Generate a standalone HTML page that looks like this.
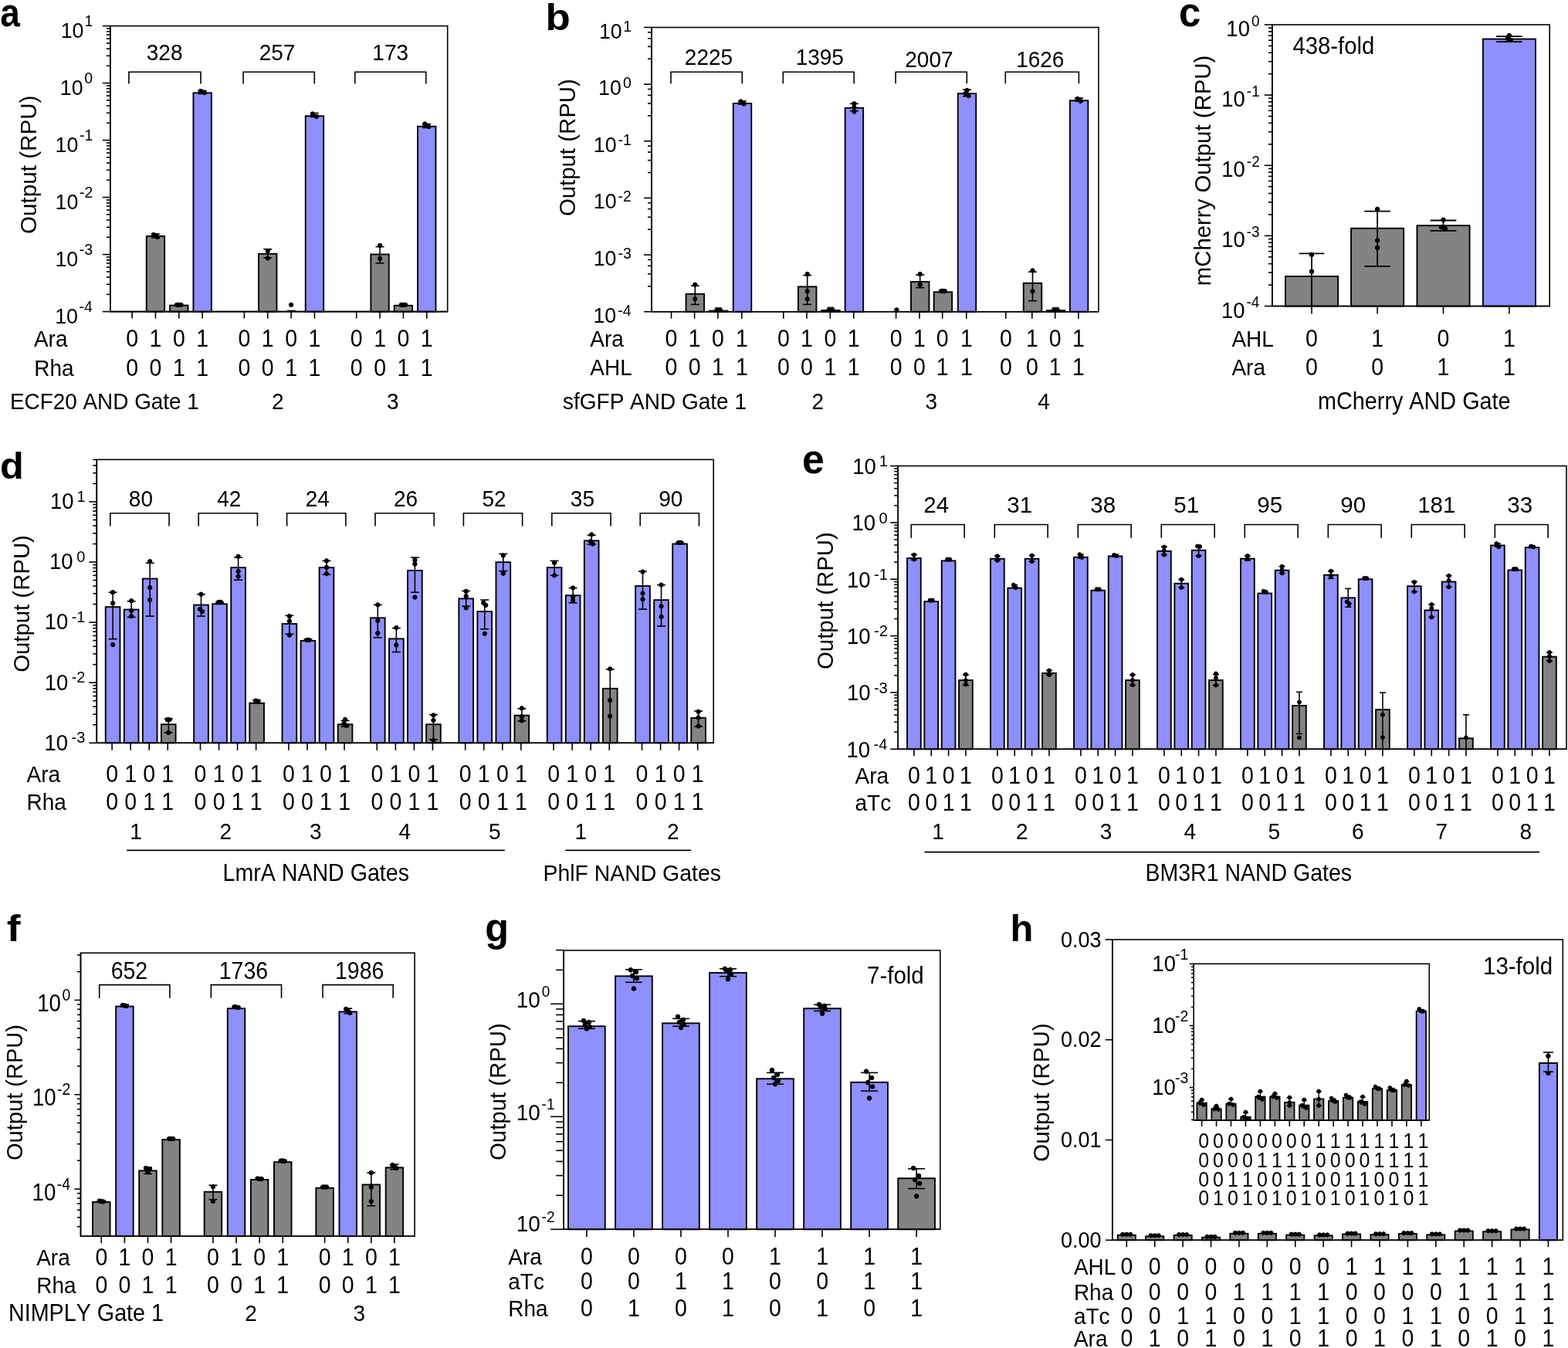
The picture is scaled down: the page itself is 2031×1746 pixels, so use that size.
<!DOCTYPE html>
<html><head><meta charset="utf-8"><title>Figure</title>
<style>
html,body{margin:0;padding:0;background:#fff;}
svg{display:block;}
svg text{font-family:"Liberation Sans",Arial,Helvetica,sans-serif;fill:#000;font-kerning:none;}
</style></head><body>
<svg width="2031" height="1746" viewBox="0 0 2031 1746" stroke="#000" stroke-linecap="butt">
<rect x="0" y="0" width="2031" height="1746" fill="#fff" stroke="none"/>
<g stroke="#000">
<rect x="142.8" y="33.6" width="436.9" height="370" fill="none" stroke-width="1.6"/>
<line x1="132.8" y1="33.6" x2="142.8" y2="33.6" stroke-width="1.6"/>
<line x1="132.8" y1="107.6" x2="142.8" y2="107.6" stroke-width="1.6"/>
<line x1="132.8" y1="181.6" x2="142.8" y2="181.6" stroke-width="1.6"/>
<line x1="132.8" y1="255.6" x2="142.8" y2="255.6" stroke-width="1.6"/>
<line x1="132.8" y1="329.6" x2="142.8" y2="329.6" stroke-width="1.6"/>
<line x1="132.8" y1="403.6" x2="142.8" y2="403.6" stroke-width="1.6"/>
<line x1="137.8" y1="85.32" x2="142.8" y2="85.32" stroke-width="1.6"/>
<line x1="137.8" y1="72.29" x2="142.8" y2="72.29" stroke-width="1.6"/>
<line x1="137.8" y1="63.05" x2="142.8" y2="63.05" stroke-width="1.6"/>
<line x1="137.8" y1="55.88" x2="142.8" y2="55.88" stroke-width="1.6"/>
<line x1="137.8" y1="50.02" x2="142.8" y2="50.02" stroke-width="1.6"/>
<line x1="137.8" y1="45.06" x2="142.8" y2="45.06" stroke-width="1.6"/>
<line x1="137.8" y1="40.77" x2="142.8" y2="40.77" stroke-width="1.6"/>
<line x1="137.8" y1="36.99" x2="142.8" y2="36.99" stroke-width="1.6"/>
<line x1="137.8" y1="159.32" x2="142.8" y2="159.32" stroke-width="1.6"/>
<line x1="137.8" y1="146.29" x2="142.8" y2="146.29" stroke-width="1.6"/>
<line x1="137.8" y1="137.05" x2="142.8" y2="137.05" stroke-width="1.6"/>
<line x1="137.8" y1="129.88" x2="142.8" y2="129.88" stroke-width="1.6"/>
<line x1="137.8" y1="124.02" x2="142.8" y2="124.02" stroke-width="1.6"/>
<line x1="137.8" y1="119.06" x2="142.8" y2="119.06" stroke-width="1.6"/>
<line x1="137.8" y1="114.77" x2="142.8" y2="114.77" stroke-width="1.6"/>
<line x1="137.8" y1="110.99" x2="142.8" y2="110.99" stroke-width="1.6"/>
<line x1="137.8" y1="233.32" x2="142.8" y2="233.32" stroke-width="1.6"/>
<line x1="137.8" y1="220.29" x2="142.8" y2="220.29" stroke-width="1.6"/>
<line x1="137.8" y1="211.05" x2="142.8" y2="211.05" stroke-width="1.6"/>
<line x1="137.8" y1="203.88" x2="142.8" y2="203.88" stroke-width="1.6"/>
<line x1="137.8" y1="198.02" x2="142.8" y2="198.02" stroke-width="1.6"/>
<line x1="137.8" y1="193.06" x2="142.8" y2="193.06" stroke-width="1.6"/>
<line x1="137.8" y1="188.77" x2="142.8" y2="188.77" stroke-width="1.6"/>
<line x1="137.8" y1="184.99" x2="142.8" y2="184.99" stroke-width="1.6"/>
<line x1="137.8" y1="307.32" x2="142.8" y2="307.32" stroke-width="1.6"/>
<line x1="137.8" y1="294.29" x2="142.8" y2="294.29" stroke-width="1.6"/>
<line x1="137.8" y1="285.05" x2="142.8" y2="285.05" stroke-width="1.6"/>
<line x1="137.8" y1="277.88" x2="142.8" y2="277.88" stroke-width="1.6"/>
<line x1="137.8" y1="272.02" x2="142.8" y2="272.02" stroke-width="1.6"/>
<line x1="137.8" y1="267.06" x2="142.8" y2="267.06" stroke-width="1.6"/>
<line x1="137.8" y1="262.77" x2="142.8" y2="262.77" stroke-width="1.6"/>
<line x1="137.8" y1="258.99" x2="142.8" y2="258.99" stroke-width="1.6"/>
<line x1="137.8" y1="381.32" x2="142.8" y2="381.32" stroke-width="1.6"/>
<line x1="137.8" y1="368.29" x2="142.8" y2="368.29" stroke-width="1.6"/>
<line x1="137.8" y1="359.05" x2="142.8" y2="359.05" stroke-width="1.6"/>
<line x1="137.8" y1="351.88" x2="142.8" y2="351.88" stroke-width="1.6"/>
<line x1="137.8" y1="346.02" x2="142.8" y2="346.02" stroke-width="1.6"/>
<line x1="137.8" y1="341.06" x2="142.8" y2="341.06" stroke-width="1.6"/>
<line x1="137.8" y1="336.77" x2="142.8" y2="336.77" stroke-width="1.6"/>
<line x1="137.8" y1="332.99" x2="142.8" y2="332.99" stroke-width="1.6"/>
<text stroke="none" transform="translate(78.64,49.2) scale(1,1.05)" font-size="26.8">10</text>
<text stroke="none" transform="translate(109.45,34.4) scale(1,1.05)" font-size="19.5">1</text>
<text stroke="none" transform="translate(77.76,123.2) scale(1,1.05)" font-size="26.8">10</text>
<text stroke="none" transform="translate(109.26,108.4) scale(1,1.05)" font-size="19.5">0</text>
<text stroke="none" transform="translate(71.52,197.2) scale(1,1.05)" font-size="26.8">10</text>
<text stroke="none" transform="translate(102.92,182.4) scale(1,1.05)" font-size="19.5">-1</text>
<text stroke="none" transform="translate(71.52,271.2) scale(1,1.05)" font-size="26.8">10</text>
<text stroke="none" transform="translate(102.92,256.4) scale(1,1.05)" font-size="19.5">-2</text>
<text stroke="none" transform="translate(71.42,345.2) scale(1,1.05)" font-size="26.8">10</text>
<text stroke="none" transform="translate(102.82,330.4) scale(1,1.05)" font-size="19.5">-3</text>
<text stroke="none" transform="translate(71.13,419.2) scale(1,1.05)" font-size="26.8">10</text>
<text stroke="none" transform="translate(102.53,404.4) scale(1,1.05)" font-size="19.5">-4</text>
<text stroke="none" transform="translate(47.2,213.3) rotate(-90) scale(1.04,1.04)" font-size="28.5" text-anchor="middle">Output (RPU)</text>
<text stroke="none" transform="translate(0.32,34) scale(0.96,1.09)" font-size="48" font-weight="bold">a</text>
<rect x="189.75" y="305.95" width="23.4" height="97.65" fill="#838383" stroke-width="1.9"/>
<line x1="201.45" y1="303" x2="201.45" y2="308" stroke-width="1.6"/>
<line x1="195.95" y1="303" x2="206.95" y2="303" stroke-width="1.6"/>
<line x1="195.95" y1="308" x2="206.95" y2="308" stroke-width="1.6"/>
<circle cx="198.95" cy="304" r="2.7"/>
<circle cx="201.45" cy="305" r="2.7"/>
<circle cx="203.95" cy="307" r="2.7"/>
<rect x="220.1" y="395.55" width="23.4" height="8.05" fill="#838383" stroke-width="1.9"/>
<line x1="231.8" y1="393.8" x2="231.8" y2="395.8" stroke-width="1.6"/>
<line x1="226.3" y1="393.8" x2="237.3" y2="393.8" stroke-width="1.6"/>
<line x1="226.3" y1="395.8" x2="237.3" y2="395.8" stroke-width="1.6"/>
<circle cx="229.3" cy="394.8" r="2.7"/>
<circle cx="231.8" cy="394.8" r="2.7"/>
<circle cx="234.3" cy="394.8" r="2.7"/>
<rect x="250.45" y="120.35" width="23.4" height="283.25" fill="#8f8ffd" stroke-width="1.9"/>
<line x1="262.15" y1="117.5" x2="262.15" y2="121.5" stroke-width="1.6"/>
<line x1="256.65" y1="117.5" x2="267.65" y2="117.5" stroke-width="1.6"/>
<line x1="256.65" y1="121.5" x2="267.65" y2="121.5" stroke-width="1.6"/>
<circle cx="259.65" cy="118" r="2.7"/>
<circle cx="262.15" cy="119" r="2.7"/>
<circle cx="264.65" cy="120" r="2.7"/>
<rect x="335.05" y="328.75" width="23.4" height="74.85" fill="#838383" stroke-width="1.9"/>
<line x1="346.75" y1="322.7" x2="346.75" y2="334" stroke-width="1.6"/>
<line x1="341.25" y1="322.7" x2="352.25" y2="322.7" stroke-width="1.6"/>
<line x1="341.25" y1="334" x2="352.25" y2="334" stroke-width="1.6"/>
<circle cx="346.75" cy="325" r="2.7"/>
<circle cx="346.75" cy="334.5" r="2.7"/>
<circle cx="377.1" cy="394.8" r="2.7"/>
<rect x="395.75" y="150.25" width="23.4" height="253.35" fill="#8f8ffd" stroke-width="1.9"/>
<line x1="407.45" y1="146.5" x2="407.45" y2="151.5" stroke-width="1.6"/>
<line x1="401.95" y1="146.5" x2="412.95" y2="146.5" stroke-width="1.6"/>
<line x1="401.95" y1="151.5" x2="412.95" y2="151.5" stroke-width="1.6"/>
<circle cx="404.95" cy="147.5" r="2.7"/>
<circle cx="409.95" cy="151" r="2.7"/>
<rect x="480.35" y="329.45" width="23.4" height="74.15" fill="#838383" stroke-width="1.9"/>
<line x1="492.05" y1="319.6" x2="492.05" y2="340.8" stroke-width="1.6"/>
<line x1="486.55" y1="319.6" x2="497.55" y2="319.6" stroke-width="1.6"/>
<line x1="486.55" y1="340.8" x2="497.55" y2="340.8" stroke-width="1.6"/>
<circle cx="492.05" cy="318" r="2.7"/>
<circle cx="492.05" cy="335" r="2.7"/>
<rect x="510.7" y="395.75" width="23.4" height="7.85" fill="#838383" stroke-width="1.9"/>
<line x1="522.4" y1="393.8" x2="522.4" y2="395.8" stroke-width="1.6"/>
<line x1="516.9" y1="393.8" x2="527.9" y2="393.8" stroke-width="1.6"/>
<line x1="516.9" y1="395.8" x2="527.9" y2="395.8" stroke-width="1.6"/>
<circle cx="519.9" cy="394.8" r="2.7"/>
<circle cx="522.4" cy="394.8" r="2.7"/>
<circle cx="524.9" cy="394.8" r="2.7"/>
<rect x="541.05" y="163.75" width="23.4" height="239.85" fill="#8f8ffd" stroke-width="1.9"/>
<line x1="552.75" y1="160.5" x2="552.75" y2="165.5" stroke-width="1.6"/>
<line x1="547.25" y1="160.5" x2="558.25" y2="160.5" stroke-width="1.6"/>
<line x1="547.25" y1="165.5" x2="558.25" y2="165.5" stroke-width="1.6"/>
<circle cx="550.25" cy="160.5" r="2.7"/>
<circle cx="555.25" cy="164" r="2.7"/>
<line x1="371.6" y1="402.4" x2="382.6" y2="402.4" stroke-width="1.4"/>
<line x1="142.8" y1="33.6" x2="142.8" y2="403.6" stroke-width="1.6"/>
<line x1="142.8" y1="403.6" x2="579.7" y2="403.6" stroke-width="1.6"/>
<line x1="171.1" y1="403.6" x2="171.1" y2="412.6" stroke-width="1.6"/>
<line x1="201.45" y1="403.6" x2="201.45" y2="412.6" stroke-width="1.6"/>
<line x1="231.8" y1="403.6" x2="231.8" y2="412.6" stroke-width="1.6"/>
<line x1="262.15" y1="403.6" x2="262.15" y2="412.6" stroke-width="1.6"/>
<line x1="316.4" y1="403.6" x2="316.4" y2="412.6" stroke-width="1.6"/>
<line x1="346.75" y1="403.6" x2="346.75" y2="412.6" stroke-width="1.6"/>
<line x1="377.1" y1="403.6" x2="377.1" y2="412.6" stroke-width="1.6"/>
<line x1="407.45" y1="403.6" x2="407.45" y2="412.6" stroke-width="1.6"/>
<line x1="461.7" y1="403.6" x2="461.7" y2="412.6" stroke-width="1.6"/>
<line x1="492.05" y1="403.6" x2="492.05" y2="412.6" stroke-width="1.6"/>
<line x1="522.4" y1="403.6" x2="522.4" y2="412.6" stroke-width="1.6"/>
<line x1="552.75" y1="403.6" x2="552.75" y2="412.6" stroke-width="1.6"/>
<polyline points="166.9,108.4 166.9,93.3 260,93.3 260,108.4" fill="none" stroke-width="1.6"/>
<text stroke="none" transform="translate(213.1,78.3) scale(1,1.07)" font-size="28" text-anchor="middle">328</text>
<polyline points="315.1,108.4 315.1,93.3 407.3,93.3 407.3,108.4" fill="none" stroke-width="1.6"/>
<text stroke="none" transform="translate(359,78.3) scale(1,1.07)" font-size="28" text-anchor="middle">257</text>
<polyline points="459.8,108.4 459.8,93.3 551.7,93.3 551.7,108.4" fill="none" stroke-width="1.6"/>
<text stroke="none" transform="translate(505.7,78.3) scale(1,1.07)" font-size="28" text-anchor="middle">173</text>
<text stroke="none" transform="translate(43.9,449.3) scale(1,1.07)" font-size="28">Ara</text>
<text stroke="none" transform="translate(44.3,486.6) scale(1,1.07)" font-size="28">Rha</text>
<text stroke="none" transform="translate(171.1,449.3) scale(1,1.07)" font-size="28.5" text-anchor="middle">0</text>
<text stroke="none" transform="translate(171.1,486.6) scale(1,1.07)" font-size="28.5" text-anchor="middle">0</text>
<text stroke="none" transform="translate(201.45,449.3) scale(1,1.07)" font-size="28.5" text-anchor="middle">1</text>
<text stroke="none" transform="translate(201.45,486.6) scale(1,1.07)" font-size="28.5" text-anchor="middle">0</text>
<text stroke="none" transform="translate(231.8,449.3) scale(1,1.07)" font-size="28.5" text-anchor="middle">0</text>
<text stroke="none" transform="translate(231.8,486.6) scale(1,1.07)" font-size="28.5" text-anchor="middle">1</text>
<text stroke="none" transform="translate(262.15,449.3) scale(1,1.07)" font-size="28.5" text-anchor="middle">1</text>
<text stroke="none" transform="translate(262.15,486.6) scale(1,1.07)" font-size="28.5" text-anchor="middle">1</text>
<text stroke="none" transform="translate(316.4,449.3) scale(1,1.07)" font-size="28.5" text-anchor="middle">0</text>
<text stroke="none" transform="translate(316.4,486.6) scale(1,1.07)" font-size="28.5" text-anchor="middle">0</text>
<text stroke="none" transform="translate(346.75,449.3) scale(1,1.07)" font-size="28.5" text-anchor="middle">1</text>
<text stroke="none" transform="translate(346.75,486.6) scale(1,1.07)" font-size="28.5" text-anchor="middle">0</text>
<text stroke="none" transform="translate(377.1,449.3) scale(1,1.07)" font-size="28.5" text-anchor="middle">0</text>
<text stroke="none" transform="translate(377.1,486.6) scale(1,1.07)" font-size="28.5" text-anchor="middle">1</text>
<text stroke="none" transform="translate(407.45,449.3) scale(1,1.07)" font-size="28.5" text-anchor="middle">1</text>
<text stroke="none" transform="translate(407.45,486.6) scale(1,1.07)" font-size="28.5" text-anchor="middle">1</text>
<text stroke="none" transform="translate(461.7,449.3) scale(1,1.07)" font-size="28.5" text-anchor="middle">0</text>
<text stroke="none" transform="translate(461.7,486.6) scale(1,1.07)" font-size="28.5" text-anchor="middle">0</text>
<text stroke="none" transform="translate(492.05,449.3) scale(1,1.07)" font-size="28.5" text-anchor="middle">1</text>
<text stroke="none" transform="translate(492.05,486.6) scale(1,1.07)" font-size="28.5" text-anchor="middle">0</text>
<text stroke="none" transform="translate(522.4,449.3) scale(1,1.07)" font-size="28.5" text-anchor="middle">0</text>
<text stroke="none" transform="translate(522.4,486.6) scale(1,1.07)" font-size="28.5" text-anchor="middle">1</text>
<text stroke="none" transform="translate(552.75,449.3) scale(1,1.07)" font-size="28.5" text-anchor="middle">1</text>
<text stroke="none" transform="translate(552.75,486.6) scale(1,1.07)" font-size="28.5" text-anchor="middle">1</text>
<text stroke="none" transform="translate(13,530) scale(1,1.07)" font-size="27.9">ECF20 AND Gate 1</text>
<text stroke="none" transform="translate(359.8,530) scale(1,1.07)" font-size="28" text-anchor="middle">2</text>
<text stroke="none" transform="translate(508.7,530) scale(1,1.07)" font-size="28" text-anchor="middle">3</text>
<rect x="844" y="35.5" width="579" height="368.2" fill="none" stroke-width="1.6"/>
<line x1="834" y1="35.5" x2="844" y2="35.5" stroke-width="1.6"/>
<line x1="834" y1="109.14" x2="844" y2="109.14" stroke-width="1.6"/>
<line x1="834" y1="182.78" x2="844" y2="182.78" stroke-width="1.6"/>
<line x1="834" y1="256.42" x2="844" y2="256.42" stroke-width="1.6"/>
<line x1="834" y1="330.06" x2="844" y2="330.06" stroke-width="1.6"/>
<line x1="834" y1="403.7" x2="844" y2="403.7" stroke-width="1.6"/>
<line x1="839" y1="76.21" x2="844" y2="76.21" stroke-width="1.6"/>
<line x1="839" y1="60.33" x2="844" y2="60.33" stroke-width="1.6"/>
<line x1="839" y1="49.77" x2="844" y2="49.77" stroke-width="1.6"/>
<line x1="839" y1="41.85" x2="844" y2="41.85" stroke-width="1.6"/>
<line x1="839" y1="149.85" x2="844" y2="149.85" stroke-width="1.6"/>
<line x1="839" y1="133.97" x2="844" y2="133.97" stroke-width="1.6"/>
<line x1="839" y1="123.41" x2="844" y2="123.41" stroke-width="1.6"/>
<line x1="839" y1="115.49" x2="844" y2="115.49" stroke-width="1.6"/>
<line x1="839" y1="223.49" x2="844" y2="223.49" stroke-width="1.6"/>
<line x1="839" y1="207.61" x2="844" y2="207.61" stroke-width="1.6"/>
<line x1="839" y1="197.05" x2="844" y2="197.05" stroke-width="1.6"/>
<line x1="839" y1="189.13" x2="844" y2="189.13" stroke-width="1.6"/>
<line x1="839" y1="297.13" x2="844" y2="297.13" stroke-width="1.6"/>
<line x1="839" y1="281.25" x2="844" y2="281.25" stroke-width="1.6"/>
<line x1="839" y1="270.69" x2="844" y2="270.69" stroke-width="1.6"/>
<line x1="839" y1="262.77" x2="844" y2="262.77" stroke-width="1.6"/>
<line x1="839" y1="370.77" x2="844" y2="370.77" stroke-width="1.6"/>
<line x1="839" y1="354.89" x2="844" y2="354.89" stroke-width="1.6"/>
<line x1="839" y1="344.33" x2="844" y2="344.33" stroke-width="1.6"/>
<line x1="839" y1="336.41" x2="844" y2="336.41" stroke-width="1.6"/>
<text stroke="none" transform="translate(775.94,49.5) scale(1,1.05)" font-size="26.8">10</text>
<text stroke="none" transform="translate(807.15,40.5) scale(1,1.05)" font-size="19.5">1</text>
<text stroke="none" transform="translate(775.06,123.14) scale(1,1.05)" font-size="26.8">10</text>
<text stroke="none" transform="translate(806.96,114.14) scale(1,1.05)" font-size="19.5">0</text>
<text stroke="none" transform="translate(768.82,196.78) scale(1,1.05)" font-size="26.8">10</text>
<text stroke="none" transform="translate(800.62,187.78) scale(1,1.05)" font-size="19.5">-1</text>
<text stroke="none" transform="translate(768.82,270.42) scale(1,1.05)" font-size="26.8">10</text>
<text stroke="none" transform="translate(800.62,261.42) scale(1,1.05)" font-size="19.5">-2</text>
<text stroke="none" transform="translate(768.72,344.06) scale(1,1.05)" font-size="26.8">10</text>
<text stroke="none" transform="translate(800.52,335.06) scale(1,1.05)" font-size="19.5">-3</text>
<text stroke="none" transform="translate(768.43,417.7) scale(1,1.05)" font-size="26.8">10</text>
<text stroke="none" transform="translate(800.23,408.7) scale(1,1.05)" font-size="19.5">-4</text>
<text stroke="none" transform="translate(745,191.2) rotate(-90) scale(1.03,1.04)" font-size="28.5" text-anchor="middle">Output (RPU)</text>
<text stroke="none" transform="translate(706.6,38.7) scale(1.1,1)" font-size="48" font-weight="bold">b</text>
<rect x="888.55" y="380.75" width="23.5" height="22.95" fill="#838383" stroke-width="1.9"/>
<line x1="900.3" y1="370.1" x2="900.3" y2="394.4" stroke-width="1.6"/>
<line x1="894.8" y1="370.1" x2="905.8" y2="370.1" stroke-width="1.6"/>
<line x1="894.8" y1="394.4" x2="905.8" y2="394.4" stroke-width="1.6"/>
<circle cx="900.3" cy="368.7" r="2.7"/>
<circle cx="900.3" cy="387.2" r="2.7"/>
<rect x="918.85" y="402.55" width="23.5" height="1.15" fill="#838383" stroke-width="1.9"/>
<circle cx="928.6" cy="401" r="2.7"/>
<circle cx="932.6" cy="401" r="2.7"/>
<rect x="949.75" y="133.95" width="23.5" height="269.75" fill="#8f8ffd" stroke-width="1.9"/>
<line x1="961.5" y1="131" x2="961.5" y2="135" stroke-width="1.6"/>
<line x1="956" y1="131" x2="967" y2="131" stroke-width="1.6"/>
<line x1="956" y1="135" x2="967" y2="135" stroke-width="1.6"/>
<circle cx="959.5" cy="131.5" r="2.7"/>
<circle cx="961.5" cy="133" r="2.7"/>
<circle cx="963.5" cy="134.5" r="2.7"/>
<rect x="1033.95" y="371.35" width="23.5" height="32.35" fill="#838383" stroke-width="1.9"/>
<line x1="1045.7" y1="356.6" x2="1045.7" y2="394.4" stroke-width="1.6"/>
<line x1="1040.2" y1="356.6" x2="1051.2" y2="356.6" stroke-width="1.6"/>
<line x1="1040.2" y1="394.4" x2="1051.2" y2="394.4" stroke-width="1.6"/>
<circle cx="1045.7" cy="355" r="2.7"/>
<circle cx="1045.7" cy="377.3" r="2.7"/>
<circle cx="1045.7" cy="387.2" r="2.7"/>
<rect x="1064.25" y="401.95" width="23.5" height="1.75" fill="#838383" stroke-width="1.9"/>
<circle cx="1074" cy="400.5" r="2.7"/>
<circle cx="1078" cy="400.5" r="2.7"/>
<rect x="1094.65" y="139.75" width="23.5" height="263.95" fill="#8f8ffd" stroke-width="1.9"/>
<line x1="1106.4" y1="134.3" x2="1106.4" y2="143.6" stroke-width="1.6"/>
<line x1="1100.9" y1="134.3" x2="1111.9" y2="134.3" stroke-width="1.6"/>
<line x1="1100.9" y1="143.6" x2="1111.9" y2="143.6" stroke-width="1.6"/>
<circle cx="1106.4" cy="134.3" r="2.7"/>
<circle cx="1106.4" cy="139" r="2.7"/>
<circle cx="1106.4" cy="144.5" r="2.7"/>
<circle cx="1161.3" cy="401.4" r="2.7"/>
<rect x="1179.95" y="364.95" width="23.5" height="38.75" fill="#838383" stroke-width="1.9"/>
<line x1="1191.7" y1="356.1" x2="1191.7" y2="372.6" stroke-width="1.6"/>
<line x1="1186.2" y1="356.1" x2="1197.2" y2="356.1" stroke-width="1.6"/>
<line x1="1186.2" y1="372.6" x2="1197.2" y2="372.6" stroke-width="1.6"/>
<circle cx="1191.7" cy="355" r="2.7"/>
<circle cx="1191.7" cy="368.6" r="2.7"/>
<rect x="1209.65" y="378.25" width="23.5" height="25.45" fill="#838383" stroke-width="1.9"/>
<line x1="1221.4" y1="376" x2="1221.4" y2="378.5" stroke-width="1.6"/>
<line x1="1215.9" y1="376" x2="1226.9" y2="376" stroke-width="1.6"/>
<line x1="1215.9" y1="378.5" x2="1226.9" y2="378.5" stroke-width="1.6"/>
<circle cx="1219.4" cy="377" r="2.7"/>
<circle cx="1221.4" cy="377" r="2.7"/>
<circle cx="1223.4" cy="377" r="2.7"/>
<rect x="1240.75" y="121.15" width="23.5" height="282.55" fill="#8f8ffd" stroke-width="1.9"/>
<line x1="1252.5" y1="116.1" x2="1252.5" y2="124.7" stroke-width="1.6"/>
<line x1="1247" y1="116.1" x2="1258" y2="116.1" stroke-width="1.6"/>
<line x1="1247" y1="124.7" x2="1258" y2="124.7" stroke-width="1.6"/>
<circle cx="1252.5" cy="117" r="2.7"/>
<circle cx="1250.5" cy="121" r="2.7"/>
<circle cx="1254.5" cy="124" r="2.7"/>
<rect x="1325.75" y="366.75" width="23.5" height="36.95" fill="#838383" stroke-width="1.9"/>
<line x1="1337.5" y1="352.2" x2="1337.5" y2="389.7" stroke-width="1.6"/>
<line x1="1332" y1="352.2" x2="1343" y2="352.2" stroke-width="1.6"/>
<line x1="1332" y1="389.7" x2="1343" y2="389.7" stroke-width="1.6"/>
<circle cx="1337.5" cy="350.4" r="2.7"/>
<circle cx="1337.5" cy="377.2" r="2.7"/>
<rect x="1355.65" y="402.15" width="23.5" height="1.55" fill="#838383" stroke-width="1.9"/>
<circle cx="1365.4" cy="400.8" r="2.7"/>
<circle cx="1369.4" cy="400.8" r="2.7"/>
<rect x="1385.85" y="130.25" width="23.5" height="273.45" fill="#8f8ffd" stroke-width="1.9"/>
<line x1="1397.6" y1="127" x2="1397.6" y2="131" stroke-width="1.6"/>
<line x1="1392.1" y1="127" x2="1403.1" y2="127" stroke-width="1.6"/>
<line x1="1392.1" y1="131" x2="1403.1" y2="131" stroke-width="1.6"/>
<circle cx="1395.6" cy="128" r="2.7"/>
<circle cx="1397.6" cy="129" r="2.7"/>
<circle cx="1399.6" cy="131" r="2.7"/>
<line x1="844" y1="35.5" x2="844" y2="403.7" stroke-width="1.6"/>
<line x1="844" y1="403.7" x2="1423" y2="403.7" stroke-width="1.6"/>
<line x1="869.5" y1="403.7" x2="869.5" y2="412.7" stroke-width="1.6"/>
<line x1="899.6" y1="403.7" x2="899.6" y2="412.7" stroke-width="1.6"/>
<line x1="929.9" y1="403.7" x2="929.9" y2="412.7" stroke-width="1.6"/>
<line x1="960.8" y1="403.7" x2="960.8" y2="412.7" stroke-width="1.6"/>
<line x1="1014.8" y1="403.7" x2="1014.8" y2="412.7" stroke-width="1.6"/>
<line x1="1045" y1="403.7" x2="1045" y2="412.7" stroke-width="1.6"/>
<line x1="1075.3" y1="403.7" x2="1075.3" y2="412.7" stroke-width="1.6"/>
<line x1="1105.7" y1="403.7" x2="1105.7" y2="412.7" stroke-width="1.6"/>
<line x1="1160.6" y1="403.7" x2="1160.6" y2="412.7" stroke-width="1.6"/>
<line x1="1191" y1="403.7" x2="1191" y2="412.7" stroke-width="1.6"/>
<line x1="1220.7" y1="403.7" x2="1220.7" y2="412.7" stroke-width="1.6"/>
<line x1="1251.8" y1="403.7" x2="1251.8" y2="412.7" stroke-width="1.6"/>
<line x1="1302.8" y1="403.7" x2="1302.8" y2="412.7" stroke-width="1.6"/>
<line x1="1336.8" y1="403.7" x2="1336.8" y2="412.7" stroke-width="1.6"/>
<line x1="1366.7" y1="403.7" x2="1366.7" y2="412.7" stroke-width="1.6"/>
<line x1="1396.9" y1="403.7" x2="1396.9" y2="412.7" stroke-width="1.6"/>
<polyline points="869,108.3 869,93.3 961.3,93.3 961.3,108.3" fill="none" stroke-width="1.6"/>
<text stroke="none" transform="translate(918,84.1) scale(1,1.07)" font-size="28" text-anchor="middle">2225</text>
<polyline points="1014.3,108.3 1014.3,93.3 1106.2,93.3 1106.2,108.3" fill="none" stroke-width="1.6"/>
<text stroke="none" transform="translate(1061.8,83.9) scale(1,1.07)" font-size="28" text-anchor="middle">1395</text>
<polyline points="1160.1,108.3 1160.1,93.3 1252.3,93.3 1252.3,108.3" fill="none" stroke-width="1.6"/>
<text stroke="none" transform="translate(1203.4,86.6) scale(1,1.07)" font-size="28" text-anchor="middle">2007</text>
<polyline points="1302.3,108.3 1302.3,93.3 1397.4,93.3 1397.4,108.3" fill="none" stroke-width="1.6"/>
<text stroke="none" transform="translate(1347.3,86.9) scale(1,1.07)" font-size="28" text-anchor="middle">1626</text>
<text stroke="none" transform="translate(764.3,448.9) scale(1,1.07)" font-size="28">Ara</text>
<text stroke="none" transform="translate(764.3,486.4) scale(1,1.07)" font-size="28">AHL</text>
<text stroke="none" transform="translate(869.5,448.6) scale(1,1.07)" font-size="28.5" text-anchor="middle">0</text>
<text stroke="none" transform="translate(869.5,486.3) scale(1,1.07)" font-size="28.5" text-anchor="middle">0</text>
<text stroke="none" transform="translate(899.6,448.6) scale(1,1.07)" font-size="28.5" text-anchor="middle">1</text>
<text stroke="none" transform="translate(899.6,486.3) scale(1,1.07)" font-size="28.5" text-anchor="middle">0</text>
<text stroke="none" transform="translate(929.9,448.6) scale(1,1.07)" font-size="28.5" text-anchor="middle">0</text>
<text stroke="none" transform="translate(929.9,486.3) scale(1,1.07)" font-size="28.5" text-anchor="middle">1</text>
<text stroke="none" transform="translate(960.8,448.6) scale(1,1.07)" font-size="28.5" text-anchor="middle">1</text>
<text stroke="none" transform="translate(960.8,486.3) scale(1,1.07)" font-size="28.5" text-anchor="middle">1</text>
<text stroke="none" transform="translate(1014.8,448.6) scale(1,1.07)" font-size="28.5" text-anchor="middle">0</text>
<text stroke="none" transform="translate(1014.8,486.3) scale(1,1.07)" font-size="28.5" text-anchor="middle">0</text>
<text stroke="none" transform="translate(1045,448.6) scale(1,1.07)" font-size="28.5" text-anchor="middle">1</text>
<text stroke="none" transform="translate(1045,486.3) scale(1,1.07)" font-size="28.5" text-anchor="middle">0</text>
<text stroke="none" transform="translate(1075.3,448.6) scale(1,1.07)" font-size="28.5" text-anchor="middle">0</text>
<text stroke="none" transform="translate(1075.3,486.3) scale(1,1.07)" font-size="28.5" text-anchor="middle">1</text>
<text stroke="none" transform="translate(1105.7,448.6) scale(1,1.07)" font-size="28.5" text-anchor="middle">1</text>
<text stroke="none" transform="translate(1105.7,486.3) scale(1,1.07)" font-size="28.5" text-anchor="middle">1</text>
<text stroke="none" transform="translate(1160.6,448.6) scale(1,1.07)" font-size="28.5" text-anchor="middle">0</text>
<text stroke="none" transform="translate(1160.6,486.3) scale(1,1.07)" font-size="28.5" text-anchor="middle">0</text>
<text stroke="none" transform="translate(1191,448.6) scale(1,1.07)" font-size="28.5" text-anchor="middle">1</text>
<text stroke="none" transform="translate(1191,486.3) scale(1,1.07)" font-size="28.5" text-anchor="middle">0</text>
<text stroke="none" transform="translate(1220.7,448.6) scale(1,1.07)" font-size="28.5" text-anchor="middle">0</text>
<text stroke="none" transform="translate(1220.7,486.3) scale(1,1.07)" font-size="28.5" text-anchor="middle">1</text>
<text stroke="none" transform="translate(1251.8,448.6) scale(1,1.07)" font-size="28.5" text-anchor="middle">1</text>
<text stroke="none" transform="translate(1251.8,486.3) scale(1,1.07)" font-size="28.5" text-anchor="middle">1</text>
<text stroke="none" transform="translate(1302.8,448.6) scale(1,1.07)" font-size="28.5" text-anchor="middle">0</text>
<text stroke="none" transform="translate(1302.8,486.3) scale(1,1.07)" font-size="28.5" text-anchor="middle">0</text>
<text stroke="none" transform="translate(1336.8,448.6) scale(1,1.07)" font-size="28.5" text-anchor="middle">1</text>
<text stroke="none" transform="translate(1336.8,486.3) scale(1,1.07)" font-size="28.5" text-anchor="middle">0</text>
<text stroke="none" transform="translate(1366.7,448.6) scale(1,1.07)" font-size="28.5" text-anchor="middle">0</text>
<text stroke="none" transform="translate(1366.7,486.3) scale(1,1.07)" font-size="28.5" text-anchor="middle">1</text>
<text stroke="none" transform="translate(1396.9,448.6) scale(1,1.07)" font-size="28.5" text-anchor="middle">1</text>
<text stroke="none" transform="translate(1396.9,486.3) scale(1,1.07)" font-size="28.5" text-anchor="middle">1</text>
<text stroke="none" transform="translate(729,529.8) scale(1,1.07)" font-size="28">sfGFP AND Gate 1</text>
<text stroke="none" transform="translate(1059.4,529.8) scale(1,1.07)" font-size="28" text-anchor="middle">2</text>
<text stroke="none" transform="translate(1206.4,529.8) scale(1,1.07)" font-size="28" text-anchor="middle">3</text>
<text stroke="none" transform="translate(1352,529.8) scale(1,1.07)" font-size="28" text-anchor="middle">4</text>
<rect x="1647.8" y="32" width="359.4" height="364.5" fill="none" stroke-width="1.6"/>
<line x1="1637.8" y1="32" x2="1647.8" y2="32" stroke-width="1.6"/>
<line x1="1637.8" y1="123.12" x2="1647.8" y2="123.12" stroke-width="1.6"/>
<line x1="1637.8" y1="214.25" x2="1647.8" y2="214.25" stroke-width="1.6"/>
<line x1="1637.8" y1="305.38" x2="1647.8" y2="305.38" stroke-width="1.6"/>
<line x1="1637.8" y1="396.5" x2="1647.8" y2="396.5" stroke-width="1.6"/>
<line x1="1642.8" y1="95.69" x2="1647.8" y2="95.69" stroke-width="1.6"/>
<line x1="1642.8" y1="79.65" x2="1647.8" y2="79.65" stroke-width="1.6"/>
<line x1="1642.8" y1="68.26" x2="1647.8" y2="68.26" stroke-width="1.6"/>
<line x1="1642.8" y1="59.43" x2="1647.8" y2="59.43" stroke-width="1.6"/>
<line x1="1642.8" y1="52.22" x2="1647.8" y2="52.22" stroke-width="1.6"/>
<line x1="1642.8" y1="46.12" x2="1647.8" y2="46.12" stroke-width="1.6"/>
<line x1="1642.8" y1="40.83" x2="1647.8" y2="40.83" stroke-width="1.6"/>
<line x1="1642.8" y1="36.17" x2="1647.8" y2="36.17" stroke-width="1.6"/>
<line x1="1642.8" y1="186.82" x2="1647.8" y2="186.82" stroke-width="1.6"/>
<line x1="1642.8" y1="170.77" x2="1647.8" y2="170.77" stroke-width="1.6"/>
<line x1="1642.8" y1="159.39" x2="1647.8" y2="159.39" stroke-width="1.6"/>
<line x1="1642.8" y1="150.56" x2="1647.8" y2="150.56" stroke-width="1.6"/>
<line x1="1642.8" y1="143.34" x2="1647.8" y2="143.34" stroke-width="1.6"/>
<line x1="1642.8" y1="137.24" x2="1647.8" y2="137.24" stroke-width="1.6"/>
<line x1="1642.8" y1="131.96" x2="1647.8" y2="131.96" stroke-width="1.6"/>
<line x1="1642.8" y1="127.29" x2="1647.8" y2="127.29" stroke-width="1.6"/>
<line x1="1642.8" y1="277.94" x2="1647.8" y2="277.94" stroke-width="1.6"/>
<line x1="1642.8" y1="261.9" x2="1647.8" y2="261.9" stroke-width="1.6"/>
<line x1="1642.8" y1="250.51" x2="1647.8" y2="250.51" stroke-width="1.6"/>
<line x1="1642.8" y1="241.68" x2="1647.8" y2="241.68" stroke-width="1.6"/>
<line x1="1642.8" y1="234.47" x2="1647.8" y2="234.47" stroke-width="1.6"/>
<line x1="1642.8" y1="228.37" x2="1647.8" y2="228.37" stroke-width="1.6"/>
<line x1="1642.8" y1="223.08" x2="1647.8" y2="223.08" stroke-width="1.6"/>
<line x1="1642.8" y1="218.42" x2="1647.8" y2="218.42" stroke-width="1.6"/>
<line x1="1642.8" y1="369.07" x2="1647.8" y2="369.07" stroke-width="1.6"/>
<line x1="1642.8" y1="353.02" x2="1647.8" y2="353.02" stroke-width="1.6"/>
<line x1="1642.8" y1="341.64" x2="1647.8" y2="341.64" stroke-width="1.6"/>
<line x1="1642.8" y1="332.81" x2="1647.8" y2="332.81" stroke-width="1.6"/>
<line x1="1642.8" y1="325.59" x2="1647.8" y2="325.59" stroke-width="1.6"/>
<line x1="1642.8" y1="319.49" x2="1647.8" y2="319.49" stroke-width="1.6"/>
<line x1="1642.8" y1="314.21" x2="1647.8" y2="314.21" stroke-width="1.6"/>
<line x1="1642.8" y1="309.54" x2="1647.8" y2="309.54" stroke-width="1.6"/>
<text stroke="none" transform="translate(1588.35,47.1) scale(1,1.1)" font-size="27.5">10</text>
<text stroke="none" transform="translate(1621.01,33.7) scale(1,1.1)" font-size="19">0</text>
<text stroke="none" transform="translate(1582.27,138.22) scale(1,1.1)" font-size="27.5">10</text>
<text stroke="none" transform="translate(1614.84,124.83) scale(1,1.1)" font-size="19">-1</text>
<text stroke="none" transform="translate(1582.27,229.35) scale(1,1.1)" font-size="27.5">10</text>
<text stroke="none" transform="translate(1614.84,215.95) scale(1,1.1)" font-size="19">-2</text>
<text stroke="none" transform="translate(1582.17,320.48) scale(1,1.1)" font-size="27.5">10</text>
<text stroke="none" transform="translate(1614.74,307.07) scale(1,1.1)" font-size="19">-3</text>
<text stroke="none" transform="translate(1581.89,411.6) scale(1,1.1)" font-size="27.5">10</text>
<text stroke="none" transform="translate(1614.46,398.2) scale(1,1.1)" font-size="19">-4</text>
<text stroke="none" transform="translate(1567.7,221) rotate(-90) scale(1.03,1.04)" font-size="28.5" text-anchor="middle">mCherry Output (RPU)</text>
<text stroke="none" transform="translate(1527.06,34.1) scale(1.06,1.1)" font-size="48" font-weight="bold">c</text>
<rect x="1664.95" y="357.95" width="68.1" height="38.55" fill="#838383" stroke-width="1.9"/>
<rect x="1750.05" y="295.75" width="68.1" height="100.75" fill="#838383" stroke-width="1.9"/>
<rect x="1835.45" y="292.15" width="68.1" height="104.35" fill="#838383" stroke-width="1.9"/>
<rect x="1920.85" y="50.55" width="68.1" height="345.95" fill="#8f8ffd" stroke-width="1.9"/>
<line x1="1699" y1="328.4" x2="1699" y2="396.5" stroke-width="1.8"/>
<line x1="1682.7" y1="328.4" x2="1715.3" y2="328.4" stroke-width="1.8"/>
<circle cx="1699" cy="329.8" r="2.8"/>
<circle cx="1699" cy="351.7" r="2.8"/>
<line x1="1784.1" y1="273.7" x2="1784.1" y2="344.9" stroke-width="1.8"/>
<line x1="1767.25" y1="273.7" x2="1800.95" y2="273.7" stroke-width="1.8"/>
<line x1="1767.25" y1="344.9" x2="1800.95" y2="344.9" stroke-width="1.8"/>
<circle cx="1784.1" cy="271" r="2.8"/>
<circle cx="1784.1" cy="311.5" r="2.8"/>
<circle cx="1784.1" cy="320.8" r="2.8"/>
<line x1="1869.5" y1="285.5" x2="1869.5" y2="298.9" stroke-width="1.8"/>
<line x1="1852.65" y1="285.5" x2="1886.35" y2="285.5" stroke-width="1.8"/>
<line x1="1852.65" y1="298.9" x2="1886.35" y2="298.9" stroke-width="1.8"/>
<circle cx="1869.5" cy="284.7" r="2.8"/>
<circle cx="1867" cy="294.2" r="2.8"/>
<circle cx="1872" cy="296.2" r="2.8"/>
<line x1="1954.9" y1="47.1" x2="1954.9" y2="54.2" stroke-width="1.8"/>
<line x1="1938.05" y1="47.1" x2="1971.75" y2="47.1" stroke-width="1.8"/>
<line x1="1938.05" y1="54.2" x2="1971.75" y2="54.2" stroke-width="1.8"/>
<circle cx="1954.9" cy="46" r="2.8"/>
<circle cx="1952.9" cy="50" r="2.8"/>
<circle cx="1956.9" cy="52" r="2.8"/>
<line x1="1647.8" y1="32" x2="1647.8" y2="396.5" stroke-width="1.6"/>
<line x1="1647.8" y1="396.5" x2="2007.2" y2="396.5" stroke-width="1.6"/>
<line x1="1699" y1="396.5" x2="1699" y2="406.5" stroke-width="1.6"/>
<line x1="1784.1" y1="396.5" x2="1784.1" y2="406.5" stroke-width="1.6"/>
<line x1="1869.5" y1="396.5" x2="1869.5" y2="406.5" stroke-width="1.6"/>
<line x1="1954.9" y1="396.5" x2="1954.9" y2="406.5" stroke-width="1.6"/>
<text stroke="none" transform="translate(1674.4,69.8) scale(1,1.07)" font-size="29.3">438-fold</text>
<text stroke="none" transform="translate(1595.4,449) scale(1,1.07)" font-size="28">AHL</text>
<text stroke="none" transform="translate(1595.4,486.1) scale(1,1.07)" font-size="28">Ara</text>
<text stroke="none" transform="translate(1699,449) scale(1,1.07)" font-size="28.5" text-anchor="middle">0</text>
<text stroke="none" transform="translate(1699,486.1) scale(1,1.07)" font-size="28.5" text-anchor="middle">0</text>
<text stroke="none" transform="translate(1784.1,449) scale(1,1.07)" font-size="28.5" text-anchor="middle">1</text>
<text stroke="none" transform="translate(1784.1,486.1) scale(1,1.07)" font-size="28.5" text-anchor="middle">0</text>
<text stroke="none" transform="translate(1869.5,449) scale(1,1.07)" font-size="28.5" text-anchor="middle">0</text>
<text stroke="none" transform="translate(1869.5,486.1) scale(1,1.07)" font-size="28.5" text-anchor="middle">1</text>
<text stroke="none" transform="translate(1954.9,449) scale(1,1.07)" font-size="28.5" text-anchor="middle">1</text>
<text stroke="none" transform="translate(1954.9,486.1) scale(1,1.07)" font-size="28.5" text-anchor="middle">1</text>
<text stroke="none" transform="translate(1707,529.5) scale(1,1.07)" font-size="28.8">mCherry AND Gate</text>
<rect x="125.3" y="595.3" width="798.9" height="367" fill="none" stroke-width="1.6"/>
<line x1="115.3" y1="649.9" x2="125.3" y2="649.9" stroke-width="1.6"/>
<line x1="115.3" y1="728" x2="125.3" y2="728" stroke-width="1.6"/>
<line x1="115.3" y1="806.1" x2="125.3" y2="806.1" stroke-width="1.6"/>
<line x1="115.3" y1="884.2" x2="125.3" y2="884.2" stroke-width="1.6"/>
<line x1="115.3" y1="962.3" x2="125.3" y2="962.3" stroke-width="1.6"/>
<line x1="120.3" y1="626.39" x2="125.3" y2="626.39" stroke-width="1.6"/>
<line x1="120.3" y1="612.64" x2="125.3" y2="612.64" stroke-width="1.6"/>
<line x1="120.3" y1="602.88" x2="125.3" y2="602.88" stroke-width="1.6"/>
<line x1="120.3" y1="595.31" x2="125.3" y2="595.31" stroke-width="1.6"/>
<line x1="120.3" y1="704.49" x2="125.3" y2="704.49" stroke-width="1.6"/>
<line x1="120.3" y1="690.74" x2="125.3" y2="690.74" stroke-width="1.6"/>
<line x1="120.3" y1="680.98" x2="125.3" y2="680.98" stroke-width="1.6"/>
<line x1="120.3" y1="673.41" x2="125.3" y2="673.41" stroke-width="1.6"/>
<line x1="120.3" y1="667.23" x2="125.3" y2="667.23" stroke-width="1.6"/>
<line x1="120.3" y1="662" x2="125.3" y2="662" stroke-width="1.6"/>
<line x1="120.3" y1="657.47" x2="125.3" y2="657.47" stroke-width="1.6"/>
<line x1="120.3" y1="653.47" x2="125.3" y2="653.47" stroke-width="1.6"/>
<line x1="120.3" y1="782.59" x2="125.3" y2="782.59" stroke-width="1.6"/>
<line x1="120.3" y1="768.84" x2="125.3" y2="768.84" stroke-width="1.6"/>
<line x1="120.3" y1="759.08" x2="125.3" y2="759.08" stroke-width="1.6"/>
<line x1="120.3" y1="751.51" x2="125.3" y2="751.51" stroke-width="1.6"/>
<line x1="120.3" y1="745.33" x2="125.3" y2="745.33" stroke-width="1.6"/>
<line x1="120.3" y1="740.1" x2="125.3" y2="740.1" stroke-width="1.6"/>
<line x1="120.3" y1="735.57" x2="125.3" y2="735.57" stroke-width="1.6"/>
<line x1="120.3" y1="731.57" x2="125.3" y2="731.57" stroke-width="1.6"/>
<line x1="120.3" y1="860.69" x2="125.3" y2="860.69" stroke-width="1.6"/>
<line x1="120.3" y1="846.94" x2="125.3" y2="846.94" stroke-width="1.6"/>
<line x1="120.3" y1="837.18" x2="125.3" y2="837.18" stroke-width="1.6"/>
<line x1="120.3" y1="829.61" x2="125.3" y2="829.61" stroke-width="1.6"/>
<line x1="120.3" y1="823.43" x2="125.3" y2="823.43" stroke-width="1.6"/>
<line x1="120.3" y1="818.2" x2="125.3" y2="818.2" stroke-width="1.6"/>
<line x1="120.3" y1="813.67" x2="125.3" y2="813.67" stroke-width="1.6"/>
<line x1="120.3" y1="809.67" x2="125.3" y2="809.67" stroke-width="1.6"/>
<line x1="120.3" y1="938.79" x2="125.3" y2="938.79" stroke-width="1.6"/>
<line x1="120.3" y1="925.04" x2="125.3" y2="925.04" stroke-width="1.6"/>
<line x1="120.3" y1="915.28" x2="125.3" y2="915.28" stroke-width="1.6"/>
<line x1="120.3" y1="907.71" x2="125.3" y2="907.71" stroke-width="1.6"/>
<line x1="120.3" y1="901.53" x2="125.3" y2="901.53" stroke-width="1.6"/>
<line x1="120.3" y1="896.3" x2="125.3" y2="896.3" stroke-width="1.6"/>
<line x1="120.3" y1="891.77" x2="125.3" y2="891.77" stroke-width="1.6"/>
<line x1="120.3" y1="887.77" x2="125.3" y2="887.77" stroke-width="1.6"/>
<text stroke="none" transform="translate(64.98,659.2) scale(1,1.05)" font-size="27.5">10</text>
<text stroke="none" transform="translate(99.4,649.9) scale(1,1.05)" font-size="20">1</text>
<text stroke="none" transform="translate(64.08,737.3) scale(1,1.05)" font-size="27.5">10</text>
<text stroke="none" transform="translate(99.2,728) scale(1,1.05)" font-size="20">0</text>
<text stroke="none" transform="translate(57.67,815.4) scale(1,1.05)" font-size="27.5">10</text>
<text stroke="none" transform="translate(92.7,806.1) scale(1,1.05)" font-size="20">-1</text>
<text stroke="none" transform="translate(57.67,893.5) scale(1,1.05)" font-size="27.5">10</text>
<text stroke="none" transform="translate(92.7,884.2) scale(1,1.05)" font-size="20">-2</text>
<text stroke="none" transform="translate(57.58,971.6) scale(1,1.05)" font-size="27.5">10</text>
<text stroke="none" transform="translate(92.6,962.3) scale(1,1.05)" font-size="20">-3</text>
<text stroke="none" transform="translate(37.6,782) rotate(-90) scale(1.03,1.04)" font-size="28.5" text-anchor="middle">Output (RPU)</text>
<text stroke="none" transform="translate(-0.02,620.1) scale(1.05,1.01)" font-size="48" font-weight="bold">d</text>
<rect x="136.75" y="786.15" width="18.7" height="176.15" fill="#8f8ffd" stroke-width="1.9"/>
<line x1="146.1" y1="767.2" x2="146.1" y2="827.7" stroke-width="1.6"/>
<line x1="140.6" y1="767.2" x2="151.6" y2="767.2" stroke-width="1.6"/>
<line x1="140.6" y1="827.7" x2="151.6" y2="827.7" stroke-width="1.6"/>
<circle cx="146.1" cy="767.2" r="2.7"/>
<circle cx="146.1" cy="781.3" r="2.7"/>
<circle cx="146.1" cy="835" r="2.7"/>
<rect x="160.8" y="789.55" width="18.7" height="172.75" fill="#8f8ffd" stroke-width="1.9"/>
<line x1="170.15" y1="778.8" x2="170.15" y2="799.4" stroke-width="1.6"/>
<line x1="164.65" y1="778.8" x2="175.65" y2="778.8" stroke-width="1.6"/>
<line x1="164.65" y1="799.4" x2="175.65" y2="799.4" stroke-width="1.6"/>
<circle cx="170.15" cy="778.2" r="2.7"/>
<circle cx="170.15" cy="791.1" r="2.7"/>
<circle cx="170.15" cy="798.1" r="2.7"/>
<rect x="184.85" y="749.55" width="18.7" height="212.75" fill="#8f8ffd" stroke-width="1.9"/>
<line x1="194.2" y1="729.3" x2="194.2" y2="798.1" stroke-width="1.6"/>
<line x1="188.7" y1="729.3" x2="199.7" y2="729.3" stroke-width="1.6"/>
<line x1="188.7" y1="798.1" x2="199.7" y2="798.1" stroke-width="1.6"/>
<circle cx="194.2" cy="727.2" r="2.7"/>
<circle cx="194.2" cy="761.2" r="2.7"/>
<circle cx="194.2" cy="777" r="2.7"/>
<rect x="208.9" y="938.25" width="18.7" height="24.05" fill="#838383" stroke-width="1.9"/>
<line x1="218.25" y1="930.8" x2="218.25" y2="948.9" stroke-width="1.6"/>
<line x1="212.75" y1="930.8" x2="223.75" y2="930.8" stroke-width="1.6"/>
<line x1="212.75" y1="948.9" x2="223.75" y2="948.9" stroke-width="1.6"/>
<circle cx="216.75" cy="932.1" r="2.7"/>
<circle cx="219.75" cy="932.1" r="2.7"/>
<circle cx="218.25" cy="948.9" r="2.7"/>
<rect x="251.15" y="783.55" width="18.7" height="178.75" fill="#8f8ffd" stroke-width="1.9"/>
<line x1="260.5" y1="769.7" x2="260.5" y2="798.1" stroke-width="1.6"/>
<line x1="255" y1="769.7" x2="266" y2="769.7" stroke-width="1.6"/>
<line x1="255" y1="798.1" x2="266" y2="798.1" stroke-width="1.6"/>
<circle cx="260.5" cy="769.7" r="2.7"/>
<circle cx="259" cy="789.1" r="2.7"/>
<circle cx="262" cy="792.2" r="2.7"/>
<rect x="275.2" y="782.25" width="18.7" height="180.05" fill="#8f8ffd" stroke-width="1.9"/>
<line x1="284.55" y1="780" x2="284.55" y2="782" stroke-width="1.6"/>
<line x1="279.05" y1="780" x2="290.05" y2="780" stroke-width="1.6"/>
<line x1="279.05" y1="782" x2="290.05" y2="782" stroke-width="1.6"/>
<circle cx="283.05" cy="780" r="2.7"/>
<circle cx="284.55" cy="780" r="2.7"/>
<circle cx="286.05" cy="780" r="2.7"/>
<rect x="299.25" y="735.15" width="18.7" height="227.15" fill="#8f8ffd" stroke-width="1.9"/>
<line x1="308.6" y1="722.1" x2="308.6" y2="751.2" stroke-width="1.6"/>
<line x1="303.1" y1="722.1" x2="314.1" y2="722.1" stroke-width="1.6"/>
<line x1="303.1" y1="751.2" x2="314.1" y2="751.2" stroke-width="1.6"/>
<circle cx="308.6" cy="720.8" r="2.7"/>
<circle cx="308.6" cy="740.1" r="2.7"/>
<circle cx="308.6" cy="746.5" r="2.7"/>
<rect x="323.3" y="910.65" width="18.7" height="51.65" fill="#838383" stroke-width="1.9"/>
<line x1="332.65" y1="907" x2="332.65" y2="911" stroke-width="1.6"/>
<line x1="327.15" y1="907" x2="338.15" y2="907" stroke-width="1.6"/>
<line x1="327.15" y1="911" x2="338.15" y2="911" stroke-width="1.6"/>
<circle cx="331.15" cy="907.6" r="2.7"/>
<circle cx="332.65" cy="908" r="2.7"/>
<circle cx="334.15" cy="908.5" r="2.7"/>
<rect x="365.55" y="808.05" width="18.7" height="154.25" fill="#8f8ffd" stroke-width="1.9"/>
<line x1="374.9" y1="797.3" x2="374.9" y2="821.3" stroke-width="1.6"/>
<line x1="369.4" y1="797.3" x2="380.4" y2="797.3" stroke-width="1.6"/>
<line x1="369.4" y1="821.3" x2="380.4" y2="821.3" stroke-width="1.6"/>
<circle cx="374.9" cy="798.1" r="2.7"/>
<circle cx="374.9" cy="804.5" r="2.7"/>
<circle cx="374.9" cy="822.6" r="2.7"/>
<rect x="389.6" y="829.95" width="18.7" height="132.35" fill="#8f8ffd" stroke-width="1.9"/>
<line x1="398.95" y1="828" x2="398.95" y2="830" stroke-width="1.6"/>
<line x1="393.45" y1="828" x2="404.45" y2="828" stroke-width="1.6"/>
<line x1="393.45" y1="830" x2="404.45" y2="830" stroke-width="1.6"/>
<circle cx="397.45" cy="829" r="2.7"/>
<circle cx="398.95" cy="829" r="2.7"/>
<circle cx="400.45" cy="829" r="2.7"/>
<rect x="413.65" y="735.15" width="18.7" height="227.15" fill="#8f8ffd" stroke-width="1.9"/>
<line x1="423" y1="726.4" x2="423" y2="744" stroke-width="1.6"/>
<line x1="417.5" y1="726.4" x2="428.5" y2="726.4" stroke-width="1.6"/>
<line x1="417.5" y1="744" x2="428.5" y2="744" stroke-width="1.6"/>
<circle cx="423" cy="726.4" r="2.7"/>
<circle cx="423" cy="735" r="2.7"/>
<circle cx="423" cy="743.2" r="2.7"/>
<rect x="437.7" y="938.25" width="18.7" height="24.05" fill="#838383" stroke-width="1.9"/>
<line x1="447.05" y1="933.4" x2="447.05" y2="941.1" stroke-width="1.6"/>
<line x1="441.55" y1="933.4" x2="452.55" y2="933.4" stroke-width="1.6"/>
<line x1="441.55" y1="941.1" x2="452.55" y2="941.1" stroke-width="1.6"/>
<circle cx="447.05" cy="932" r="2.7"/>
<circle cx="445.55" cy="937" r="2.7"/>
<circle cx="448.55" cy="940" r="2.7"/>
<rect x="479.95" y="800.35" width="18.7" height="161.95" fill="#8f8ffd" stroke-width="1.9"/>
<line x1="489.3" y1="783.4" x2="489.3" y2="825.9" stroke-width="1.6"/>
<line x1="483.8" y1="783.4" x2="494.8" y2="783.4" stroke-width="1.6"/>
<line x1="483.8" y1="825.9" x2="494.8" y2="825.9" stroke-width="1.6"/>
<circle cx="489.3" cy="783.4" r="2.7"/>
<circle cx="489.3" cy="804" r="2.7"/>
<circle cx="489.3" cy="820" r="2.7"/>
<rect x="504" y="827.35" width="18.7" height="134.95" fill="#8f8ffd" stroke-width="1.9"/>
<line x1="513.35" y1="813.6" x2="513.35" y2="844.5" stroke-width="1.6"/>
<line x1="507.85" y1="813.6" x2="518.85" y2="813.6" stroke-width="1.6"/>
<line x1="507.85" y1="844.5" x2="518.85" y2="844.5" stroke-width="1.6"/>
<circle cx="513.35" cy="813" r="2.7"/>
<circle cx="513.35" cy="835.5" r="2.7"/>
<rect x="528.05" y="738.95" width="18.7" height="223.35" fill="#8f8ffd" stroke-width="1.9"/>
<line x1="537.4" y1="722.1" x2="537.4" y2="767.2" stroke-width="1.6"/>
<line x1="531.9" y1="722.1" x2="542.9" y2="722.1" stroke-width="1.6"/>
<line x1="531.9" y1="767.2" x2="542.9" y2="767.2" stroke-width="1.6"/>
<circle cx="537.4" cy="725.4" r="2.7"/>
<circle cx="537.4" cy="730.6" r="2.7"/>
<circle cx="537.4" cy="773.6" r="2.7"/>
<rect x="552.1" y="938.25" width="18.7" height="24.05" fill="#838383" stroke-width="1.9"/>
<line x1="561.45" y1="925.7" x2="561.45" y2="957.9" stroke-width="1.6"/>
<line x1="555.95" y1="925.7" x2="566.95" y2="925.7" stroke-width="1.6"/>
<line x1="555.95" y1="957.9" x2="566.95" y2="957.9" stroke-width="1.6"/>
<circle cx="561.45" cy="926.4" r="2.7"/>
<circle cx="561.45" cy="932.9" r="2.7"/>
<circle cx="561.45" cy="959" r="2.7"/>
<rect x="594.35" y="775.35" width="18.7" height="186.95" fill="#8f8ffd" stroke-width="1.9"/>
<line x1="603.7" y1="765.4" x2="603.7" y2="785.2" stroke-width="1.6"/>
<line x1="598.2" y1="765.4" x2="609.2" y2="765.4" stroke-width="1.6"/>
<line x1="598.2" y1="785.2" x2="609.2" y2="785.2" stroke-width="1.6"/>
<circle cx="603.7" cy="765.9" r="2.7"/>
<circle cx="603.7" cy="772.3" r="2.7"/>
<circle cx="603.7" cy="787.3" r="2.7"/>
<rect x="618.4" y="792.05" width="18.7" height="170.25" fill="#8f8ffd" stroke-width="1.9"/>
<line x1="627.75" y1="777" x2="627.75" y2="814.8" stroke-width="1.6"/>
<line x1="622.25" y1="777" x2="633.25" y2="777" stroke-width="1.6"/>
<line x1="622.25" y1="814.8" x2="633.25" y2="814.8" stroke-width="1.6"/>
<circle cx="626.25" cy="780.8" r="2.7"/>
<circle cx="629.25" cy="783.9" r="2.7"/>
<circle cx="627.75" cy="820.8" r="2.7"/>
<rect x="642.45" y="728.15" width="18.7" height="234.15" fill="#8f8ffd" stroke-width="1.9"/>
<line x1="651.8" y1="717.4" x2="651.8" y2="739.6" stroke-width="1.6"/>
<line x1="646.3" y1="717.4" x2="657.3" y2="717.4" stroke-width="1.6"/>
<line x1="646.3" y1="739.6" x2="657.3" y2="739.6" stroke-width="1.6"/>
<circle cx="651.8" cy="719.5" r="2.7"/>
<circle cx="651.8" cy="742.7" r="2.7"/>
<rect x="666.5" y="926.65" width="18.7" height="35.65" fill="#838383" stroke-width="1.9"/>
<line x1="675.85" y1="917.9" x2="675.85" y2="933.9" stroke-width="1.6"/>
<line x1="670.35" y1="917.9" x2="681.35" y2="917.9" stroke-width="1.6"/>
<line x1="670.35" y1="933.9" x2="681.35" y2="933.9" stroke-width="1.6"/>
<circle cx="675.85" cy="917.4" r="2.7"/>
<circle cx="675.85" cy="928.2" r="2.7"/>
<circle cx="675.85" cy="933.4" r="2.7"/>
<rect x="708.75" y="735.15" width="18.7" height="227.15" fill="#8f8ffd" stroke-width="1.9"/>
<line x1="718.1" y1="726.4" x2="718.1" y2="745.3" stroke-width="1.6"/>
<line x1="712.6" y1="726.4" x2="723.6" y2="726.4" stroke-width="1.6"/>
<line x1="712.6" y1="745.3" x2="723.6" y2="745.3" stroke-width="1.6"/>
<circle cx="718.1" cy="729" r="2.7"/>
<circle cx="718.1" cy="745.3" r="2.7"/>
<rect x="732.8" y="771.25" width="18.7" height="191.05" fill="#8f8ffd" stroke-width="1.9"/>
<line x1="742.15" y1="761.5" x2="742.15" y2="780.8" stroke-width="1.6"/>
<line x1="736.65" y1="761.5" x2="747.65" y2="761.5" stroke-width="1.6"/>
<line x1="736.65" y1="780.8" x2="747.65" y2="780.8" stroke-width="1.6"/>
<circle cx="742.15" cy="761.5" r="2.7"/>
<circle cx="742.15" cy="772.8" r="2.7"/>
<circle cx="742.15" cy="777.5" r="2.7"/>
<rect x="756.85" y="700.35" width="18.7" height="261.95" fill="#8f8ffd" stroke-width="1.9"/>
<line x1="766.2" y1="693.2" x2="766.2" y2="705.3" stroke-width="1.6"/>
<line x1="760.7" y1="693.2" x2="771.7" y2="693.2" stroke-width="1.6"/>
<line x1="760.7" y1="705.3" x2="771.7" y2="705.3" stroke-width="1.6"/>
<circle cx="766.2" cy="692.4" r="2.7"/>
<circle cx="764.7" cy="701.4" r="2.7"/>
<circle cx="767.7" cy="704.5" r="2.7"/>
<rect x="780.9" y="891.85" width="18.7" height="70.45" fill="#838383" stroke-width="1.9"/>
<line x1="790.25" y1="866.9" x2="790.25" y2="962" stroke-width="1.6"/>
<line x1="784.75" y1="866.9" x2="795.75" y2="866.9" stroke-width="1.6"/>
<line x1="784.75" y1="962" x2="795.75" y2="962" stroke-width="1.6"/>
<circle cx="790.25" cy="866.4" r="2.7"/>
<circle cx="790.25" cy="907.1" r="2.7"/>
<circle cx="790.25" cy="927.7" r="2.7"/>
<rect x="823.15" y="759.05" width="18.7" height="203.25" fill="#8f8ffd" stroke-width="1.9"/>
<line x1="832.5" y1="740.1" x2="832.5" y2="789.1" stroke-width="1.6"/>
<line x1="827" y1="740.1" x2="838" y2="740.1" stroke-width="1.6"/>
<line x1="827" y1="789.1" x2="838" y2="789.1" stroke-width="1.6"/>
<circle cx="832.5" cy="740.6" r="2.7"/>
<circle cx="832.5" cy="768.5" r="2.7"/>
<circle cx="832.5" cy="776.2" r="2.7"/>
<rect x="847.2" y="777.15" width="18.7" height="185.15" fill="#8f8ffd" stroke-width="1.9"/>
<line x1="856.55" y1="757.6" x2="856.55" y2="811" stroke-width="1.6"/>
<line x1="851.05" y1="757.6" x2="862.05" y2="757.6" stroke-width="1.6"/>
<line x1="851.05" y1="811" x2="862.05" y2="811" stroke-width="1.6"/>
<circle cx="856.55" cy="757.6" r="2.7"/>
<circle cx="856.55" cy="785.2" r="2.7"/>
<circle cx="856.55" cy="798.9" r="2.7"/>
<rect x="871.25" y="704.45" width="18.7" height="257.85" fill="#8f8ffd" stroke-width="1.9"/>
<line x1="880.6" y1="702.5" x2="880.6" y2="704.5" stroke-width="1.6"/>
<line x1="875.1" y1="702.5" x2="886.1" y2="702.5" stroke-width="1.6"/>
<line x1="875.1" y1="704.5" x2="886.1" y2="704.5" stroke-width="1.6"/>
<circle cx="879.1" cy="702.7" r="2.7"/>
<circle cx="882.1" cy="702.7" r="2.7"/>
<rect x="895.3" y="929.95" width="18.7" height="32.35" fill="#838383" stroke-width="1.9"/>
<line x1="904.65" y1="921" x2="904.65" y2="941.1" stroke-width="1.6"/>
<line x1="899.15" y1="921" x2="910.15" y2="921" stroke-width="1.6"/>
<line x1="899.15" y1="941.1" x2="910.15" y2="941.1" stroke-width="1.6"/>
<circle cx="904.65" cy="921.8" r="2.7"/>
<circle cx="904.65" cy="929.5" r="2.7"/>
<circle cx="904.65" cy="940.4" r="2.7"/>
<line x1="125.3" y1="595.3" x2="125.3" y2="962.3" stroke-width="1.6"/>
<line x1="125.3" y1="962.3" x2="924.2" y2="962.3" stroke-width="1.6"/>
<line x1="145.1" y1="962.3" x2="145.1" y2="971.8" stroke-width="1.6"/>
<line x1="169.15" y1="962.3" x2="169.15" y2="971.8" stroke-width="1.6"/>
<line x1="193.2" y1="962.3" x2="193.2" y2="971.8" stroke-width="1.6"/>
<line x1="217.25" y1="962.3" x2="217.25" y2="971.8" stroke-width="1.6"/>
<line x1="259.5" y1="962.3" x2="259.5" y2="971.8" stroke-width="1.6"/>
<line x1="283.55" y1="962.3" x2="283.55" y2="971.8" stroke-width="1.6"/>
<line x1="307.6" y1="962.3" x2="307.6" y2="971.8" stroke-width="1.6"/>
<line x1="331.65" y1="962.3" x2="331.65" y2="971.8" stroke-width="1.6"/>
<line x1="373.9" y1="962.3" x2="373.9" y2="971.8" stroke-width="1.6"/>
<line x1="397.95" y1="962.3" x2="397.95" y2="971.8" stroke-width="1.6"/>
<line x1="422" y1="962.3" x2="422" y2="971.8" stroke-width="1.6"/>
<line x1="446.05" y1="962.3" x2="446.05" y2="971.8" stroke-width="1.6"/>
<line x1="488.3" y1="962.3" x2="488.3" y2="971.8" stroke-width="1.6"/>
<line x1="512.35" y1="962.3" x2="512.35" y2="971.8" stroke-width="1.6"/>
<line x1="536.4" y1="962.3" x2="536.4" y2="971.8" stroke-width="1.6"/>
<line x1="560.45" y1="962.3" x2="560.45" y2="971.8" stroke-width="1.6"/>
<line x1="602.7" y1="962.3" x2="602.7" y2="971.8" stroke-width="1.6"/>
<line x1="626.75" y1="962.3" x2="626.75" y2="971.8" stroke-width="1.6"/>
<line x1="650.8" y1="962.3" x2="650.8" y2="971.8" stroke-width="1.6"/>
<line x1="674.85" y1="962.3" x2="674.85" y2="971.8" stroke-width="1.6"/>
<line x1="717.1" y1="962.3" x2="717.1" y2="971.8" stroke-width="1.6"/>
<line x1="741.15" y1="962.3" x2="741.15" y2="971.8" stroke-width="1.6"/>
<line x1="765.2" y1="962.3" x2="765.2" y2="971.8" stroke-width="1.6"/>
<line x1="789.25" y1="962.3" x2="789.25" y2="971.8" stroke-width="1.6"/>
<line x1="831.5" y1="962.3" x2="831.5" y2="971.8" stroke-width="1.6"/>
<line x1="855.55" y1="962.3" x2="855.55" y2="971.8" stroke-width="1.6"/>
<line x1="879.6" y1="962.3" x2="879.6" y2="971.8" stroke-width="1.6"/>
<line x1="903.65" y1="962.3" x2="903.65" y2="971.8" stroke-width="1.6"/>
<polyline points="142.8,681.6 142.8,664.8 219.05,664.8 219.05,681.6" fill="none" stroke-width="1.6"/>
<text stroke="none" transform="translate(182.43,655.6) scale(1,1.07)" font-size="28" text-anchor="middle">80</text>
<polyline points="257.2,681.6 257.2,664.8 333.45,664.8 333.45,681.6" fill="none" stroke-width="1.6"/>
<text stroke="none" transform="translate(296.82,655.6) scale(1,1.07)" font-size="28" text-anchor="middle">42</text>
<polyline points="371.6,681.6 371.6,664.8 447.85,664.8 447.85,681.6" fill="none" stroke-width="1.6"/>
<text stroke="none" transform="translate(411.22,655.6) scale(1,1.07)" font-size="28" text-anchor="middle">24</text>
<polyline points="486,681.6 486,664.8 562.25,664.8 562.25,681.6" fill="none" stroke-width="1.6"/>
<text stroke="none" transform="translate(525.62,655.6) scale(1,1.07)" font-size="28" text-anchor="middle">26</text>
<polyline points="600.4,681.6 600.4,664.8 676.65,664.8 676.65,681.6" fill="none" stroke-width="1.6"/>
<text stroke="none" transform="translate(640.03,655.6) scale(1,1.07)" font-size="28" text-anchor="middle">52</text>
<polyline points="714.8,681.6 714.8,664.8 791.05,664.8 791.05,681.6" fill="none" stroke-width="1.6"/>
<text stroke="none" transform="translate(754.42,655.6) scale(1,1.07)" font-size="28" text-anchor="middle">35</text>
<polyline points="829.2,681.6 829.2,664.8 905.45,664.8 905.45,681.6" fill="none" stroke-width="1.6"/>
<text stroke="none" transform="translate(868.83,655.6) scale(1,1.07)" font-size="28" text-anchor="middle">90</text>
<text stroke="none" transform="translate(34.5,1013.3) scale(1,1.07)" font-size="28">Ara</text>
<text stroke="none" transform="translate(34.5,1048.5) scale(1,1.07)" font-size="28">Rha</text>
<text stroke="none" transform="translate(145.1,1013.3) scale(1,1.07)" font-size="28.5" text-anchor="middle">0</text>
<text stroke="none" transform="translate(145.1,1048.5) scale(1,1.07)" font-size="28.5" text-anchor="middle">0</text>
<text stroke="none" transform="translate(169.15,1013.3) scale(1,1.07)" font-size="28.5" text-anchor="middle">1</text>
<text stroke="none" transform="translate(169.15,1048.5) scale(1,1.07)" font-size="28.5" text-anchor="middle">0</text>
<text stroke="none" transform="translate(193.2,1013.3) scale(1,1.07)" font-size="28.5" text-anchor="middle">0</text>
<text stroke="none" transform="translate(193.2,1048.5) scale(1,1.07)" font-size="28.5" text-anchor="middle">1</text>
<text stroke="none" transform="translate(217.25,1013.3) scale(1,1.07)" font-size="28.5" text-anchor="middle">1</text>
<text stroke="none" transform="translate(217.25,1048.5) scale(1,1.07)" font-size="28.5" text-anchor="middle">1</text>
<text stroke="none" transform="translate(259.5,1013.3) scale(1,1.07)" font-size="28.5" text-anchor="middle">0</text>
<text stroke="none" transform="translate(259.5,1048.5) scale(1,1.07)" font-size="28.5" text-anchor="middle">0</text>
<text stroke="none" transform="translate(283.55,1013.3) scale(1,1.07)" font-size="28.5" text-anchor="middle">1</text>
<text stroke="none" transform="translate(283.55,1048.5) scale(1,1.07)" font-size="28.5" text-anchor="middle">0</text>
<text stroke="none" transform="translate(307.6,1013.3) scale(1,1.07)" font-size="28.5" text-anchor="middle">0</text>
<text stroke="none" transform="translate(307.6,1048.5) scale(1,1.07)" font-size="28.5" text-anchor="middle">1</text>
<text stroke="none" transform="translate(331.65,1013.3) scale(1,1.07)" font-size="28.5" text-anchor="middle">1</text>
<text stroke="none" transform="translate(331.65,1048.5) scale(1,1.07)" font-size="28.5" text-anchor="middle">1</text>
<text stroke="none" transform="translate(373.9,1013.3) scale(1,1.07)" font-size="28.5" text-anchor="middle">0</text>
<text stroke="none" transform="translate(373.9,1048.5) scale(1,1.07)" font-size="28.5" text-anchor="middle">0</text>
<text stroke="none" transform="translate(397.95,1013.3) scale(1,1.07)" font-size="28.5" text-anchor="middle">1</text>
<text stroke="none" transform="translate(397.95,1048.5) scale(1,1.07)" font-size="28.5" text-anchor="middle">0</text>
<text stroke="none" transform="translate(422,1013.3) scale(1,1.07)" font-size="28.5" text-anchor="middle">0</text>
<text stroke="none" transform="translate(422,1048.5) scale(1,1.07)" font-size="28.5" text-anchor="middle">1</text>
<text stroke="none" transform="translate(446.05,1013.3) scale(1,1.07)" font-size="28.5" text-anchor="middle">1</text>
<text stroke="none" transform="translate(446.05,1048.5) scale(1,1.07)" font-size="28.5" text-anchor="middle">1</text>
<text stroke="none" transform="translate(488.3,1013.3) scale(1,1.07)" font-size="28.5" text-anchor="middle">0</text>
<text stroke="none" transform="translate(488.3,1048.5) scale(1,1.07)" font-size="28.5" text-anchor="middle">0</text>
<text stroke="none" transform="translate(512.35,1013.3) scale(1,1.07)" font-size="28.5" text-anchor="middle">1</text>
<text stroke="none" transform="translate(512.35,1048.5) scale(1,1.07)" font-size="28.5" text-anchor="middle">0</text>
<text stroke="none" transform="translate(536.4,1013.3) scale(1,1.07)" font-size="28.5" text-anchor="middle">0</text>
<text stroke="none" transform="translate(536.4,1048.5) scale(1,1.07)" font-size="28.5" text-anchor="middle">1</text>
<text stroke="none" transform="translate(560.45,1013.3) scale(1,1.07)" font-size="28.5" text-anchor="middle">1</text>
<text stroke="none" transform="translate(560.45,1048.5) scale(1,1.07)" font-size="28.5" text-anchor="middle">1</text>
<text stroke="none" transform="translate(602.7,1013.3) scale(1,1.07)" font-size="28.5" text-anchor="middle">0</text>
<text stroke="none" transform="translate(602.7,1048.5) scale(1,1.07)" font-size="28.5" text-anchor="middle">0</text>
<text stroke="none" transform="translate(626.75,1013.3) scale(1,1.07)" font-size="28.5" text-anchor="middle">1</text>
<text stroke="none" transform="translate(626.75,1048.5) scale(1,1.07)" font-size="28.5" text-anchor="middle">0</text>
<text stroke="none" transform="translate(650.8,1013.3) scale(1,1.07)" font-size="28.5" text-anchor="middle">0</text>
<text stroke="none" transform="translate(650.8,1048.5) scale(1,1.07)" font-size="28.5" text-anchor="middle">1</text>
<text stroke="none" transform="translate(674.85,1013.3) scale(1,1.07)" font-size="28.5" text-anchor="middle">1</text>
<text stroke="none" transform="translate(674.85,1048.5) scale(1,1.07)" font-size="28.5" text-anchor="middle">1</text>
<text stroke="none" transform="translate(717.1,1013.3) scale(1,1.07)" font-size="28.5" text-anchor="middle">0</text>
<text stroke="none" transform="translate(717.1,1048.5) scale(1,1.07)" font-size="28.5" text-anchor="middle">0</text>
<text stroke="none" transform="translate(741.15,1013.3) scale(1,1.07)" font-size="28.5" text-anchor="middle">1</text>
<text stroke="none" transform="translate(741.15,1048.5) scale(1,1.07)" font-size="28.5" text-anchor="middle">0</text>
<text stroke="none" transform="translate(765.2,1013.3) scale(1,1.07)" font-size="28.5" text-anchor="middle">0</text>
<text stroke="none" transform="translate(765.2,1048.5) scale(1,1.07)" font-size="28.5" text-anchor="middle">1</text>
<text stroke="none" transform="translate(789.25,1013.3) scale(1,1.07)" font-size="28.5" text-anchor="middle">1</text>
<text stroke="none" transform="translate(789.25,1048.5) scale(1,1.07)" font-size="28.5" text-anchor="middle">1</text>
<text stroke="none" transform="translate(831.5,1013.3) scale(1,1.07)" font-size="28.5" text-anchor="middle">0</text>
<text stroke="none" transform="translate(831.5,1048.5) scale(1,1.07)" font-size="28.5" text-anchor="middle">0</text>
<text stroke="none" transform="translate(855.55,1013.3) scale(1,1.07)" font-size="28.5" text-anchor="middle">1</text>
<text stroke="none" transform="translate(855.55,1048.5) scale(1,1.07)" font-size="28.5" text-anchor="middle">0</text>
<text stroke="none" transform="translate(879.6,1013.3) scale(1,1.07)" font-size="28.5" text-anchor="middle">0</text>
<text stroke="none" transform="translate(879.6,1048.5) scale(1,1.07)" font-size="28.5" text-anchor="middle">1</text>
<text stroke="none" transform="translate(903.65,1013.3) scale(1,1.07)" font-size="28.5" text-anchor="middle">1</text>
<text stroke="none" transform="translate(903.65,1048.5) scale(1,1.07)" font-size="28.5" text-anchor="middle">1</text>
<text stroke="none" transform="translate(176,1087.1) scale(1,1.07)" font-size="28" text-anchor="middle">1</text>
<text stroke="none" transform="translate(292.2,1087.1) scale(1,1.07)" font-size="28" text-anchor="middle">2</text>
<text stroke="none" transform="translate(408.7,1087.1) scale(1,1.07)" font-size="28" text-anchor="middle">3</text>
<text stroke="none" transform="translate(524.3,1087.1) scale(1,1.07)" font-size="28" text-anchor="middle">4</text>
<text stroke="none" transform="translate(640.8,1087.1) scale(1,1.07)" font-size="28" text-anchor="middle">5</text>
<text stroke="none" transform="translate(752.3,1087.1) scale(1,1.07)" font-size="28" text-anchor="middle">1</text>
<text stroke="none" transform="translate(871.7,1087.1) scale(1,1.07)" font-size="28" text-anchor="middle">2</text>
<line x1="164.2" y1="1101.4" x2="653.8" y2="1101.4" stroke-width="1.8"/>
<line x1="732.4" y1="1101.4" x2="895.1" y2="1101.4" stroke-width="1.8"/>
<text stroke="none" transform="translate(288.5,1140.8) scale(1,1.07)" font-size="28.6">LmrA NAND Gates</text>
<text stroke="none" transform="translate(703.5,1140.8) scale(1,1.07)" font-size="28.4">PhlF NAND Gates</text>
<rect x="1163.2" y="603.5" width="865.8" height="366.8" fill="none" stroke-width="1.6"/>
<line x1="1153.2" y1="603.5" x2="1163.2" y2="603.5" stroke-width="1.6"/>
<line x1="1153.2" y1="676.86" x2="1163.2" y2="676.86" stroke-width="1.6"/>
<line x1="1153.2" y1="750.22" x2="1163.2" y2="750.22" stroke-width="1.6"/>
<line x1="1153.2" y1="823.58" x2="1163.2" y2="823.58" stroke-width="1.6"/>
<line x1="1153.2" y1="896.94" x2="1163.2" y2="896.94" stroke-width="1.6"/>
<line x1="1153.2" y1="970.3" x2="1163.2" y2="970.3" stroke-width="1.6"/>
<line x1="1158.2" y1="654.78" x2="1163.2" y2="654.78" stroke-width="1.6"/>
<line x1="1158.2" y1="641.86" x2="1163.2" y2="641.86" stroke-width="1.6"/>
<line x1="1158.2" y1="632.69" x2="1163.2" y2="632.69" stroke-width="1.6"/>
<line x1="1158.2" y1="625.58" x2="1163.2" y2="625.58" stroke-width="1.6"/>
<line x1="1158.2" y1="619.77" x2="1163.2" y2="619.77" stroke-width="1.6"/>
<line x1="1158.2" y1="614.86" x2="1163.2" y2="614.86" stroke-width="1.6"/>
<line x1="1158.2" y1="610.61" x2="1163.2" y2="610.61" stroke-width="1.6"/>
<line x1="1158.2" y1="606.86" x2="1163.2" y2="606.86" stroke-width="1.6"/>
<line x1="1158.2" y1="728.14" x2="1163.2" y2="728.14" stroke-width="1.6"/>
<line x1="1158.2" y1="715.22" x2="1163.2" y2="715.22" stroke-width="1.6"/>
<line x1="1158.2" y1="706.05" x2="1163.2" y2="706.05" stroke-width="1.6"/>
<line x1="1158.2" y1="698.94" x2="1163.2" y2="698.94" stroke-width="1.6"/>
<line x1="1158.2" y1="693.13" x2="1163.2" y2="693.13" stroke-width="1.6"/>
<line x1="1158.2" y1="688.22" x2="1163.2" y2="688.22" stroke-width="1.6"/>
<line x1="1158.2" y1="683.97" x2="1163.2" y2="683.97" stroke-width="1.6"/>
<line x1="1158.2" y1="680.22" x2="1163.2" y2="680.22" stroke-width="1.6"/>
<line x1="1158.2" y1="801.5" x2="1163.2" y2="801.5" stroke-width="1.6"/>
<line x1="1158.2" y1="788.58" x2="1163.2" y2="788.58" stroke-width="1.6"/>
<line x1="1158.2" y1="779.41" x2="1163.2" y2="779.41" stroke-width="1.6"/>
<line x1="1158.2" y1="772.3" x2="1163.2" y2="772.3" stroke-width="1.6"/>
<line x1="1158.2" y1="766.49" x2="1163.2" y2="766.49" stroke-width="1.6"/>
<line x1="1158.2" y1="761.58" x2="1163.2" y2="761.58" stroke-width="1.6"/>
<line x1="1158.2" y1="757.33" x2="1163.2" y2="757.33" stroke-width="1.6"/>
<line x1="1158.2" y1="753.58" x2="1163.2" y2="753.58" stroke-width="1.6"/>
<line x1="1158.2" y1="874.86" x2="1163.2" y2="874.86" stroke-width="1.6"/>
<line x1="1158.2" y1="861.94" x2="1163.2" y2="861.94" stroke-width="1.6"/>
<line x1="1158.2" y1="852.77" x2="1163.2" y2="852.77" stroke-width="1.6"/>
<line x1="1158.2" y1="845.66" x2="1163.2" y2="845.66" stroke-width="1.6"/>
<line x1="1158.2" y1="839.85" x2="1163.2" y2="839.85" stroke-width="1.6"/>
<line x1="1158.2" y1="834.94" x2="1163.2" y2="834.94" stroke-width="1.6"/>
<line x1="1158.2" y1="830.69" x2="1163.2" y2="830.69" stroke-width="1.6"/>
<line x1="1158.2" y1="826.94" x2="1163.2" y2="826.94" stroke-width="1.6"/>
<line x1="1158.2" y1="948.22" x2="1163.2" y2="948.22" stroke-width="1.6"/>
<line x1="1158.2" y1="935.3" x2="1163.2" y2="935.3" stroke-width="1.6"/>
<line x1="1158.2" y1="926.13" x2="1163.2" y2="926.13" stroke-width="1.6"/>
<line x1="1158.2" y1="919.02" x2="1163.2" y2="919.02" stroke-width="1.6"/>
<line x1="1158.2" y1="913.21" x2="1163.2" y2="913.21" stroke-width="1.6"/>
<line x1="1158.2" y1="908.3" x2="1163.2" y2="908.3" stroke-width="1.6"/>
<line x1="1158.2" y1="904.05" x2="1163.2" y2="904.05" stroke-width="1.6"/>
<line x1="1158.2" y1="900.3" x2="1163.2" y2="900.3" stroke-width="1.6"/>
<text stroke="none" transform="translate(1104.28,613.9) scale(1,1.05)" font-size="27.5">10</text>
<text stroke="none" transform="translate(1138.7,604.3) scale(1,1.05)" font-size="20">1</text>
<text stroke="none" transform="translate(1103.38,687.26) scale(1,1.05)" font-size="27.5">10</text>
<text stroke="none" transform="translate(1138.5,677.66) scale(1,1.05)" font-size="20">0</text>
<text stroke="none" transform="translate(1096.97,760.62) scale(1,1.05)" font-size="27.5">10</text>
<text stroke="none" transform="translate(1132,751.02) scale(1,1.05)" font-size="20">-1</text>
<text stroke="none" transform="translate(1096.97,833.98) scale(1,1.05)" font-size="27.5">10</text>
<text stroke="none" transform="translate(1132,824.38) scale(1,1.05)" font-size="20">-2</text>
<text stroke="none" transform="translate(1096.88,907.34) scale(1,1.05)" font-size="27.5">10</text>
<text stroke="none" transform="translate(1131.9,897.74) scale(1,1.05)" font-size="20">-3</text>
<text stroke="none" transform="translate(1096.58,980.7) scale(1,1.05)" font-size="27.5">10</text>
<text stroke="none" transform="translate(1131.6,971.1) scale(1,1.05)" font-size="20">-4</text>
<text stroke="none" transform="translate(1079.2,778.1) rotate(-90) scale(1.03,1.04)" font-size="28.5" text-anchor="middle">Output (RPU)</text>
<text stroke="none" transform="translate(1038.93,612.6) scale(1.08,1.1)" font-size="48" font-weight="bold">e</text>
<rect x="1175.05" y="723.05" width="17.7" height="247.25" fill="#8f8ffd" stroke-width="1.9"/>
<line x1="1183.9" y1="718.2" x2="1183.9" y2="725.2" stroke-width="1.6"/>
<line x1="1179.9" y1="718.2" x2="1187.9" y2="718.2" stroke-width="1.6"/>
<line x1="1179.9" y1="725.2" x2="1187.9" y2="725.2" stroke-width="1.6"/>
<circle cx="1183.9" cy="718.7" r="2.5"/>
<circle cx="1183.9" cy="724.6" r="2.5"/>
<rect x="1197.4" y="779.15" width="17.7" height="191.15" fill="#8f8ffd" stroke-width="1.9"/>
<line x1="1206.25" y1="776.5" x2="1206.25" y2="779.5" stroke-width="1.6"/>
<line x1="1202.25" y1="776.5" x2="1210.25" y2="776.5" stroke-width="1.6"/>
<line x1="1202.25" y1="779.5" x2="1210.25" y2="779.5" stroke-width="1.6"/>
<circle cx="1204.75" cy="777.5" r="2.5"/>
<circle cx="1207.75" cy="777.5" r="2.5"/>
<rect x="1219.75" y="726.35" width="17.7" height="243.95" fill="#8f8ffd" stroke-width="1.9"/>
<line x1="1228.6" y1="723.5" x2="1228.6" y2="726.5" stroke-width="1.6"/>
<line x1="1224.6" y1="723.5" x2="1232.6" y2="723.5" stroke-width="1.6"/>
<line x1="1224.6" y1="726.5" x2="1232.6" y2="726.5" stroke-width="1.6"/>
<circle cx="1227.1" cy="724.6" r="2.5"/>
<circle cx="1230.1" cy="724.6" r="2.5"/>
<rect x="1242.1" y="881.05" width="17.7" height="89.25" fill="#838383" stroke-width="1.9"/>
<line x1="1250.95" y1="874.1" x2="1250.95" y2="887.5" stroke-width="1.6"/>
<line x1="1246.95" y1="874.1" x2="1254.95" y2="874.1" stroke-width="1.6"/>
<line x1="1246.95" y1="887.5" x2="1254.95" y2="887.5" stroke-width="1.6"/>
<circle cx="1250.95" cy="873.6" r="2.5"/>
<circle cx="1250.95" cy="881.3" r="2.5"/>
<circle cx="1250.95" cy="886.5" r="2.5"/>
<rect x="1283.05" y="723.75" width="17.7" height="246.55" fill="#8f8ffd" stroke-width="1.9"/>
<line x1="1291.9" y1="720.3" x2="1291.9" y2="725.9" stroke-width="1.6"/>
<line x1="1287.9" y1="720.3" x2="1295.9" y2="720.3" stroke-width="1.6"/>
<line x1="1287.9" y1="725.9" x2="1295.9" y2="725.9" stroke-width="1.6"/>
<circle cx="1291.9" cy="720.3" r="2.5"/>
<circle cx="1291.9" cy="725.9" r="2.5"/>
<rect x="1305.4" y="761.65" width="17.7" height="208.65" fill="#8f8ffd" stroke-width="1.9"/>
<line x1="1314.25" y1="757.6" x2="1314.25" y2="761.2" stroke-width="1.6"/>
<line x1="1310.25" y1="757.6" x2="1318.25" y2="757.6" stroke-width="1.6"/>
<line x1="1310.25" y1="761.2" x2="1318.25" y2="761.2" stroke-width="1.6"/>
<circle cx="1312.75" cy="757.6" r="2.5"/>
<circle cx="1315.75" cy="761.2" r="2.5"/>
<rect x="1327.75" y="723.75" width="17.7" height="246.55" fill="#8f8ffd" stroke-width="1.9"/>
<line x1="1336.6" y1="719.5" x2="1336.6" y2="727.2" stroke-width="1.6"/>
<line x1="1332.6" y1="719.5" x2="1340.6" y2="719.5" stroke-width="1.6"/>
<line x1="1332.6" y1="727.2" x2="1340.6" y2="727.2" stroke-width="1.6"/>
<circle cx="1336.6" cy="719.5" r="2.5"/>
<circle cx="1336.6" cy="727.2" r="2.5"/>
<rect x="1350.1" y="871.95" width="17.7" height="98.35" fill="#838383" stroke-width="1.9"/>
<line x1="1358.95" y1="868.5" x2="1358.95" y2="874.1" stroke-width="1.6"/>
<line x1="1354.95" y1="868.5" x2="1362.95" y2="868.5" stroke-width="1.6"/>
<line x1="1354.95" y1="874.1" x2="1362.95" y2="874.1" stroke-width="1.6"/>
<circle cx="1358.95" cy="868.5" r="2.5"/>
<circle cx="1358.95" cy="874.1" r="2.5"/>
<rect x="1391.05" y="721.75" width="17.7" height="248.55" fill="#8f8ffd" stroke-width="1.9"/>
<line x1="1399.9" y1="718.2" x2="1399.9" y2="723" stroke-width="1.6"/>
<line x1="1395.9" y1="718.2" x2="1403.9" y2="718.2" stroke-width="1.6"/>
<line x1="1395.9" y1="723" x2="1403.9" y2="723" stroke-width="1.6"/>
<circle cx="1398.4" cy="718.2" r="2.5"/>
<circle cx="1401.4" cy="722" r="2.5"/>
<rect x="1413.4" y="764.75" width="17.7" height="205.55" fill="#8f8ffd" stroke-width="1.9"/>
<line x1="1422.25" y1="762.5" x2="1422.25" y2="765" stroke-width="1.6"/>
<line x1="1418.25" y1="762.5" x2="1426.25" y2="762.5" stroke-width="1.6"/>
<line x1="1418.25" y1="765" x2="1426.25" y2="765" stroke-width="1.6"/>
<circle cx="1420.75" cy="763.3" r="2.5"/>
<circle cx="1423.75" cy="763.3" r="2.5"/>
<rect x="1435.75" y="720.45" width="17.7" height="249.85" fill="#8f8ffd" stroke-width="1.9"/>
<line x1="1444.6" y1="718" x2="1444.6" y2="721" stroke-width="1.6"/>
<line x1="1440.6" y1="718" x2="1448.6" y2="718" stroke-width="1.6"/>
<line x1="1440.6" y1="721" x2="1448.6" y2="721" stroke-width="1.6"/>
<circle cx="1443.1" cy="719" r="2.5"/>
<circle cx="1446.1" cy="720" r="2.5"/>
<rect x="1458.1" y="881.05" width="17.7" height="89.25" fill="#838383" stroke-width="1.9"/>
<line x1="1466.95" y1="874.1" x2="1466.95" y2="887.5" stroke-width="1.6"/>
<line x1="1462.95" y1="874.1" x2="1470.95" y2="874.1" stroke-width="1.6"/>
<line x1="1462.95" y1="887.5" x2="1470.95" y2="887.5" stroke-width="1.6"/>
<circle cx="1466.95" cy="874.1" r="2.5"/>
<circle cx="1466.95" cy="881" r="2.5"/>
<circle cx="1466.95" cy="887" r="2.5"/>
<rect x="1499.05" y="713.85" width="17.7" height="256.45" fill="#8f8ffd" stroke-width="1.9"/>
<line x1="1507.9" y1="708.2" x2="1507.9" y2="718.6" stroke-width="1.6"/>
<line x1="1503.9" y1="708.2" x2="1511.9" y2="708.2" stroke-width="1.6"/>
<line x1="1503.9" y1="718.6" x2="1511.9" y2="718.6" stroke-width="1.6"/>
<circle cx="1507.9" cy="708.5" r="2.5"/>
<circle cx="1507.9" cy="713" r="2.5"/>
<circle cx="1507.9" cy="718.6" r="2.5"/>
<rect x="1521.4" y="755.75" width="17.7" height="214.55" fill="#8f8ffd" stroke-width="1.9"/>
<line x1="1530.25" y1="750.6" x2="1530.25" y2="761" stroke-width="1.6"/>
<line x1="1526.25" y1="750.6" x2="1534.25" y2="750.6" stroke-width="1.6"/>
<line x1="1526.25" y1="761" x2="1534.25" y2="761" stroke-width="1.6"/>
<circle cx="1530.25" cy="750.6" r="2.5"/>
<circle cx="1530.25" cy="761" r="2.5"/>
<rect x="1543.75" y="712.75" width="17.7" height="257.55" fill="#8f8ffd" stroke-width="1.9"/>
<line x1="1552.6" y1="706.9" x2="1552.6" y2="720" stroke-width="1.6"/>
<line x1="1548.6" y1="706.9" x2="1556.6" y2="706.9" stroke-width="1.6"/>
<line x1="1548.6" y1="720" x2="1556.6" y2="720" stroke-width="1.6"/>
<circle cx="1551.1" cy="707.5" r="2.5"/>
<circle cx="1554.1" cy="708" r="2.5"/>
<circle cx="1552.6" cy="720" r="2.5"/>
<rect x="1566.1" y="881.05" width="17.7" height="89.25" fill="#838383" stroke-width="1.9"/>
<line x1="1574.95" y1="873.8" x2="1574.95" y2="887.5" stroke-width="1.6"/>
<line x1="1570.95" y1="873.8" x2="1578.95" y2="873.8" stroke-width="1.6"/>
<line x1="1570.95" y1="887.5" x2="1578.95" y2="887.5" stroke-width="1.6"/>
<circle cx="1574.95" cy="872.5" r="2.5"/>
<circle cx="1574.95" cy="878" r="2.5"/>
<circle cx="1574.95" cy="887.5" r="2.5"/>
<rect x="1607.05" y="723.65" width="17.7" height="246.65" fill="#8f8ffd" stroke-width="1.9"/>
<line x1="1615.9" y1="720" x2="1615.9" y2="726" stroke-width="1.6"/>
<line x1="1611.9" y1="720" x2="1619.9" y2="720" stroke-width="1.6"/>
<line x1="1611.9" y1="726" x2="1619.9" y2="726" stroke-width="1.6"/>
<circle cx="1615.9" cy="720" r="2.5"/>
<circle cx="1615.9" cy="724" r="2.5"/>
<rect x="1629.4" y="768.55" width="17.7" height="201.75" fill="#8f8ffd" stroke-width="1.9"/>
<line x1="1638.25" y1="765.5" x2="1638.25" y2="768.5" stroke-width="1.6"/>
<line x1="1634.25" y1="765.5" x2="1642.25" y2="765.5" stroke-width="1.6"/>
<line x1="1634.25" y1="768.5" x2="1642.25" y2="768.5" stroke-width="1.6"/>
<circle cx="1636.75" cy="765.7" r="2.5"/>
<circle cx="1639.75" cy="767" r="2.5"/>
<rect x="1651.75" y="738.75" width="17.7" height="231.55" fill="#8f8ffd" stroke-width="1.9"/>
<line x1="1660.6" y1="733.7" x2="1660.6" y2="742.4" stroke-width="1.6"/>
<line x1="1656.6" y1="733.7" x2="1664.6" y2="733.7" stroke-width="1.6"/>
<line x1="1656.6" y1="742.4" x2="1664.6" y2="742.4" stroke-width="1.6"/>
<circle cx="1660.6" cy="733.7" r="2.5"/>
<circle cx="1660.6" cy="738" r="2.5"/>
<circle cx="1660.6" cy="742.4" r="2.5"/>
<rect x="1674.1" y="913.95" width="17.7" height="56.35" fill="#838383" stroke-width="1.9"/>
<line x1="1682.95" y1="896.3" x2="1682.95" y2="950.5" stroke-width="1.6"/>
<line x1="1678.95" y1="896.3" x2="1686.95" y2="896.3" stroke-width="1.6"/>
<line x1="1678.95" y1="950.5" x2="1686.95" y2="950.5" stroke-width="1.6"/>
<circle cx="1682.95" cy="909.4" r="2.5"/>
<circle cx="1682.95" cy="955.4" r="2.5"/>
<rect x="1715.05" y="744.75" width="17.7" height="225.55" fill="#8f8ffd" stroke-width="1.9"/>
<line x1="1723.9" y1="739.7" x2="1723.9" y2="749.3" stroke-width="1.6"/>
<line x1="1719.9" y1="739.7" x2="1727.9" y2="739.7" stroke-width="1.6"/>
<line x1="1719.9" y1="749.3" x2="1727.9" y2="749.3" stroke-width="1.6"/>
<circle cx="1723.9" cy="739.7" r="2.5"/>
<circle cx="1723.9" cy="746" r="2.5"/>
<rect x="1737.4" y="774.35" width="17.7" height="195.95" fill="#8f8ffd" stroke-width="1.9"/>
<line x1="1746.25" y1="762.4" x2="1746.25" y2="786.2" stroke-width="1.6"/>
<line x1="1742.25" y1="762.4" x2="1750.25" y2="762.4" stroke-width="1.6"/>
<line x1="1742.25" y1="786.2" x2="1750.25" y2="786.2" stroke-width="1.6"/>
<circle cx="1744.75" cy="779.4" r="2.5"/>
<circle cx="1747.75" cy="782.1" r="2.5"/>
<rect x="1759.75" y="750.25" width="17.7" height="220.05" fill="#8f8ffd" stroke-width="1.9"/>
<line x1="1768.6" y1="748" x2="1768.6" y2="750" stroke-width="1.6"/>
<line x1="1764.6" y1="748" x2="1772.6" y2="748" stroke-width="1.6"/>
<line x1="1764.6" y1="750" x2="1772.6" y2="750" stroke-width="1.6"/>
<circle cx="1767.1" cy="749" r="2.5"/>
<circle cx="1770.1" cy="749" r="2.5"/>
<rect x="1782.1" y="919.15" width="17.7" height="51.15" fill="#838383" stroke-width="1.9"/>
<line x1="1790.95" y1="897.1" x2="1790.95" y2="970" stroke-width="1.6"/>
<line x1="1786.95" y1="897.1" x2="1794.95" y2="897.1" stroke-width="1.6"/>
<circle cx="1790.95" cy="925.8" r="2.5"/>
<circle cx="1790.95" cy="955.1" r="2.5"/>
<rect x="1823.05" y="759.25" width="17.7" height="211.05" fill="#8f8ffd" stroke-width="1.9"/>
<line x1="1831.9" y1="753.4" x2="1831.9" y2="766.5" stroke-width="1.6"/>
<line x1="1827.9" y1="753.4" x2="1835.9" y2="753.4" stroke-width="1.6"/>
<line x1="1827.9" y1="766.5" x2="1835.9" y2="766.5" stroke-width="1.6"/>
<circle cx="1831.9" cy="754" r="2.5"/>
<circle cx="1831.9" cy="766.5" r="2.5"/>
<rect x="1845.4" y="790.45" width="17.7" height="179.85" fill="#8f8ffd" stroke-width="1.9"/>
<line x1="1854.25" y1="783" x2="1854.25" y2="799.4" stroke-width="1.6"/>
<line x1="1850.25" y1="783" x2="1858.25" y2="783" stroke-width="1.6"/>
<line x1="1850.25" y1="799.4" x2="1858.25" y2="799.4" stroke-width="1.6"/>
<circle cx="1854.25" cy="783" r="2.5"/>
<circle cx="1854.25" cy="788" r="2.5"/>
<circle cx="1854.25" cy="799.4" r="2.5"/>
<rect x="1867.75" y="753.55" width="17.7" height="216.75" fill="#8f8ffd" stroke-width="1.9"/>
<line x1="1876.6" y1="745.7" x2="1876.6" y2="760.2" stroke-width="1.6"/>
<line x1="1872.6" y1="745.7" x2="1880.6" y2="745.7" stroke-width="1.6"/>
<line x1="1872.6" y1="760.2" x2="1880.6" y2="760.2" stroke-width="1.6"/>
<circle cx="1876.6" cy="745.7" r="2.5"/>
<circle cx="1876.6" cy="752" r="2.5"/>
<circle cx="1876.6" cy="760.2" r="2.5"/>
<rect x="1890.1" y="956.35" width="17.7" height="13.95" fill="#838383" stroke-width="1.9"/>
<line x1="1898.95" y1="925.8" x2="1898.95" y2="970" stroke-width="1.6"/>
<line x1="1894.95" y1="925.8" x2="1902.95" y2="925.8" stroke-width="1.6"/>
<circle cx="1898.95" cy="955.4" r="2.5"/>
<rect x="1931.05" y="706.45" width="17.7" height="263.85" fill="#8f8ffd" stroke-width="1.9"/>
<line x1="1939.9" y1="704" x2="1939.9" y2="708" stroke-width="1.6"/>
<line x1="1935.9" y1="704" x2="1943.9" y2="704" stroke-width="1.6"/>
<line x1="1935.9" y1="708" x2="1943.9" y2="708" stroke-width="1.6"/>
<circle cx="1938.4" cy="704.1" r="2.5"/>
<circle cx="1939.9" cy="707" r="2.5"/>
<circle cx="1941.4" cy="708.2" r="2.5"/>
<rect x="1953.4" y="738.45" width="17.7" height="231.85" fill="#8f8ffd" stroke-width="1.9"/>
<line x1="1962.25" y1="736" x2="1962.25" y2="739" stroke-width="1.6"/>
<line x1="1958.25" y1="736" x2="1966.25" y2="736" stroke-width="1.6"/>
<line x1="1958.25" y1="739" x2="1966.25" y2="739" stroke-width="1.6"/>
<circle cx="1960.75" cy="737" r="2.5"/>
<circle cx="1963.75" cy="737" r="2.5"/>
<rect x="1975.75" y="709.15" width="17.7" height="261.15" fill="#8f8ffd" stroke-width="1.9"/>
<line x1="1984.6" y1="707" x2="1984.6" y2="709.5" stroke-width="1.6"/>
<line x1="1980.6" y1="707" x2="1988.6" y2="707" stroke-width="1.6"/>
<line x1="1980.6" y1="709.5" x2="1988.6" y2="709.5" stroke-width="1.6"/>
<circle cx="1983.1" cy="707.5" r="2.5"/>
<circle cx="1986.1" cy="708.5" r="2.5"/>
<rect x="1998.1" y="850.65" width="17.7" height="119.65" fill="#838383" stroke-width="1.9"/>
<line x1="2006.95" y1="845.1" x2="2006.95" y2="856" stroke-width="1.6"/>
<line x1="2002.95" y1="845.1" x2="2010.95" y2="845.1" stroke-width="1.6"/>
<line x1="2002.95" y1="856" x2="2010.95" y2="856" stroke-width="1.6"/>
<circle cx="2006.95" cy="845" r="2.5"/>
<circle cx="2006.95" cy="850" r="2.5"/>
<circle cx="2006.95" cy="856" r="2.5"/>
<line x1="1163.2" y1="603.5" x2="1163.2" y2="970.3" stroke-width="1.6"/>
<line x1="1163.2" y1="970.3" x2="2029" y2="970.3" stroke-width="1.6"/>
<line x1="1183.9" y1="970.3" x2="1183.9" y2="979.3" stroke-width="1.6"/>
<line x1="1206.25" y1="970.3" x2="1206.25" y2="979.3" stroke-width="1.6"/>
<line x1="1228.6" y1="970.3" x2="1228.6" y2="979.3" stroke-width="1.6"/>
<line x1="1250.95" y1="970.3" x2="1250.95" y2="979.3" stroke-width="1.6"/>
<line x1="1291.9" y1="970.3" x2="1291.9" y2="979.3" stroke-width="1.6"/>
<line x1="1314.25" y1="970.3" x2="1314.25" y2="979.3" stroke-width="1.6"/>
<line x1="1336.6" y1="970.3" x2="1336.6" y2="979.3" stroke-width="1.6"/>
<line x1="1358.95" y1="970.3" x2="1358.95" y2="979.3" stroke-width="1.6"/>
<line x1="1399.9" y1="970.3" x2="1399.9" y2="979.3" stroke-width="1.6"/>
<line x1="1422.25" y1="970.3" x2="1422.25" y2="979.3" stroke-width="1.6"/>
<line x1="1444.6" y1="970.3" x2="1444.6" y2="979.3" stroke-width="1.6"/>
<line x1="1466.95" y1="970.3" x2="1466.95" y2="979.3" stroke-width="1.6"/>
<line x1="1507.9" y1="970.3" x2="1507.9" y2="979.3" stroke-width="1.6"/>
<line x1="1530.25" y1="970.3" x2="1530.25" y2="979.3" stroke-width="1.6"/>
<line x1="1552.6" y1="970.3" x2="1552.6" y2="979.3" stroke-width="1.6"/>
<line x1="1574.95" y1="970.3" x2="1574.95" y2="979.3" stroke-width="1.6"/>
<line x1="1615.9" y1="970.3" x2="1615.9" y2="979.3" stroke-width="1.6"/>
<line x1="1638.25" y1="970.3" x2="1638.25" y2="979.3" stroke-width="1.6"/>
<line x1="1660.6" y1="970.3" x2="1660.6" y2="979.3" stroke-width="1.6"/>
<line x1="1682.95" y1="970.3" x2="1682.95" y2="979.3" stroke-width="1.6"/>
<line x1="1723.9" y1="970.3" x2="1723.9" y2="979.3" stroke-width="1.6"/>
<line x1="1746.25" y1="970.3" x2="1746.25" y2="979.3" stroke-width="1.6"/>
<line x1="1768.6" y1="970.3" x2="1768.6" y2="979.3" stroke-width="1.6"/>
<line x1="1790.95" y1="970.3" x2="1790.95" y2="979.3" stroke-width="1.6"/>
<line x1="1831.9" y1="970.3" x2="1831.9" y2="979.3" stroke-width="1.6"/>
<line x1="1854.25" y1="970.3" x2="1854.25" y2="979.3" stroke-width="1.6"/>
<line x1="1876.6" y1="970.3" x2="1876.6" y2="979.3" stroke-width="1.6"/>
<line x1="1898.95" y1="970.3" x2="1898.95" y2="979.3" stroke-width="1.6"/>
<line x1="1939.9" y1="970.3" x2="1939.9" y2="979.3" stroke-width="1.6"/>
<line x1="1962.25" y1="970.3" x2="1962.25" y2="979.3" stroke-width="1.6"/>
<line x1="1984.6" y1="970.3" x2="1984.6" y2="979.3" stroke-width="1.6"/>
<line x1="2006.95" y1="970.3" x2="2006.95" y2="979.3" stroke-width="1.6"/>
<polyline points="1180.3,696.8 1180.3,679.5 1249.15,679.5 1249.15,696.8" fill="none" stroke-width="1.6"/>
<text stroke="none" transform="translate(1212.73,664) scale(1,1.02)" font-size="29.5" text-anchor="middle">24</text>
<polyline points="1288.3,696.8 1288.3,679.5 1357.15,679.5 1357.15,696.8" fill="none" stroke-width="1.6"/>
<text stroke="none" transform="translate(1320.73,664) scale(1,1.02)" font-size="29.5" text-anchor="middle">31</text>
<polyline points="1396.3,696.8 1396.3,679.5 1465.15,679.5 1465.15,696.8" fill="none" stroke-width="1.6"/>
<text stroke="none" transform="translate(1428.73,664) scale(1,1.02)" font-size="29.5" text-anchor="middle">38</text>
<polyline points="1504.3,696.8 1504.3,679.5 1573.15,679.5 1573.15,696.8" fill="none" stroke-width="1.6"/>
<text stroke="none" transform="translate(1536.73,664) scale(1,1.02)" font-size="29.5" text-anchor="middle">51</text>
<polyline points="1612.3,696.8 1612.3,679.5 1681.15,679.5 1681.15,696.8" fill="none" stroke-width="1.6"/>
<text stroke="none" transform="translate(1644.73,664) scale(1,1.02)" font-size="29.5" text-anchor="middle">95</text>
<polyline points="1720.3,696.8 1720.3,679.5 1789.15,679.5 1789.15,696.8" fill="none" stroke-width="1.6"/>
<text stroke="none" transform="translate(1752.73,664) scale(1,1.02)" font-size="29.5" text-anchor="middle">90</text>
<polyline points="1828.3,696.8 1828.3,679.5 1897.15,679.5 1897.15,696.8" fill="none" stroke-width="1.6"/>
<text stroke="none" transform="translate(1860.73,664) scale(1,1.02)" font-size="29.5" text-anchor="middle">181</text>
<polyline points="1936.3,696.8 1936.3,679.5 2005.15,679.5 2005.15,696.8" fill="none" stroke-width="1.6"/>
<text stroke="none" transform="translate(1968.73,664) scale(1,1.02)" font-size="29.5" text-anchor="middle">33</text>
<text stroke="none" transform="translate(1107.5,1015.4) scale(1,1.07)" font-size="28">Ara</text>
<text stroke="none" transform="translate(1107.5,1049.9) scale(1,1.07)" font-size="28">aTc</text>
<text stroke="none" transform="translate(1183.9,1015.2) scale(1,1.07)" font-size="28.5" text-anchor="middle">0</text>
<text stroke="none" transform="translate(1183.9,1049.8) scale(1,1.07)" font-size="28.5" text-anchor="middle">0</text>
<text stroke="none" transform="translate(1206.25,1015.2) scale(1,1.07)" font-size="28.5" text-anchor="middle">1</text>
<text stroke="none" transform="translate(1206.25,1049.8) scale(1,1.07)" font-size="28.5" text-anchor="middle">0</text>
<text stroke="none" transform="translate(1228.6,1015.2) scale(1,1.07)" font-size="28.5" text-anchor="middle">0</text>
<text stroke="none" transform="translate(1228.6,1049.8) scale(1,1.07)" font-size="28.5" text-anchor="middle">1</text>
<text stroke="none" transform="translate(1250.95,1015.2) scale(1,1.07)" font-size="28.5" text-anchor="middle">1</text>
<text stroke="none" transform="translate(1250.95,1049.8) scale(1,1.07)" font-size="28.5" text-anchor="middle">1</text>
<text stroke="none" transform="translate(1291.9,1015.2) scale(1,1.07)" font-size="28.5" text-anchor="middle">0</text>
<text stroke="none" transform="translate(1291.9,1049.8) scale(1,1.07)" font-size="28.5" text-anchor="middle">0</text>
<text stroke="none" transform="translate(1314.25,1015.2) scale(1,1.07)" font-size="28.5" text-anchor="middle">1</text>
<text stroke="none" transform="translate(1314.25,1049.8) scale(1,1.07)" font-size="28.5" text-anchor="middle">0</text>
<text stroke="none" transform="translate(1336.6,1015.2) scale(1,1.07)" font-size="28.5" text-anchor="middle">0</text>
<text stroke="none" transform="translate(1336.6,1049.8) scale(1,1.07)" font-size="28.5" text-anchor="middle">1</text>
<text stroke="none" transform="translate(1358.95,1015.2) scale(1,1.07)" font-size="28.5" text-anchor="middle">1</text>
<text stroke="none" transform="translate(1358.95,1049.8) scale(1,1.07)" font-size="28.5" text-anchor="middle">1</text>
<text stroke="none" transform="translate(1399.9,1015.2) scale(1,1.07)" font-size="28.5" text-anchor="middle">0</text>
<text stroke="none" transform="translate(1399.9,1049.8) scale(1,1.07)" font-size="28.5" text-anchor="middle">0</text>
<text stroke="none" transform="translate(1422.25,1015.2) scale(1,1.07)" font-size="28.5" text-anchor="middle">1</text>
<text stroke="none" transform="translate(1422.25,1049.8) scale(1,1.07)" font-size="28.5" text-anchor="middle">0</text>
<text stroke="none" transform="translate(1444.6,1015.2) scale(1,1.07)" font-size="28.5" text-anchor="middle">0</text>
<text stroke="none" transform="translate(1444.6,1049.8) scale(1,1.07)" font-size="28.5" text-anchor="middle">1</text>
<text stroke="none" transform="translate(1466.95,1015.2) scale(1,1.07)" font-size="28.5" text-anchor="middle">1</text>
<text stroke="none" transform="translate(1466.95,1049.8) scale(1,1.07)" font-size="28.5" text-anchor="middle">1</text>
<text stroke="none" transform="translate(1507.9,1015.2) scale(1,1.07)" font-size="28.5" text-anchor="middle">0</text>
<text stroke="none" transform="translate(1507.9,1049.8) scale(1,1.07)" font-size="28.5" text-anchor="middle">0</text>
<text stroke="none" transform="translate(1530.25,1015.2) scale(1,1.07)" font-size="28.5" text-anchor="middle">1</text>
<text stroke="none" transform="translate(1530.25,1049.8) scale(1,1.07)" font-size="28.5" text-anchor="middle">0</text>
<text stroke="none" transform="translate(1552.6,1015.2) scale(1,1.07)" font-size="28.5" text-anchor="middle">0</text>
<text stroke="none" transform="translate(1552.6,1049.8) scale(1,1.07)" font-size="28.5" text-anchor="middle">1</text>
<text stroke="none" transform="translate(1574.95,1015.2) scale(1,1.07)" font-size="28.5" text-anchor="middle">1</text>
<text stroke="none" transform="translate(1574.95,1049.8) scale(1,1.07)" font-size="28.5" text-anchor="middle">1</text>
<text stroke="none" transform="translate(1615.9,1015.2) scale(1,1.07)" font-size="28.5" text-anchor="middle">0</text>
<text stroke="none" transform="translate(1615.9,1049.8) scale(1,1.07)" font-size="28.5" text-anchor="middle">0</text>
<text stroke="none" transform="translate(1638.25,1015.2) scale(1,1.07)" font-size="28.5" text-anchor="middle">1</text>
<text stroke="none" transform="translate(1638.25,1049.8) scale(1,1.07)" font-size="28.5" text-anchor="middle">0</text>
<text stroke="none" transform="translate(1660.6,1015.2) scale(1,1.07)" font-size="28.5" text-anchor="middle">0</text>
<text stroke="none" transform="translate(1660.6,1049.8) scale(1,1.07)" font-size="28.5" text-anchor="middle">1</text>
<text stroke="none" transform="translate(1682.95,1015.2) scale(1,1.07)" font-size="28.5" text-anchor="middle">1</text>
<text stroke="none" transform="translate(1682.95,1049.8) scale(1,1.07)" font-size="28.5" text-anchor="middle">1</text>
<text stroke="none" transform="translate(1723.9,1015.2) scale(1,1.07)" font-size="28.5" text-anchor="middle">0</text>
<text stroke="none" transform="translate(1723.9,1049.8) scale(1,1.07)" font-size="28.5" text-anchor="middle">0</text>
<text stroke="none" transform="translate(1746.25,1015.2) scale(1,1.07)" font-size="28.5" text-anchor="middle">1</text>
<text stroke="none" transform="translate(1746.25,1049.8) scale(1,1.07)" font-size="28.5" text-anchor="middle">0</text>
<text stroke="none" transform="translate(1768.6,1015.2) scale(1,1.07)" font-size="28.5" text-anchor="middle">0</text>
<text stroke="none" transform="translate(1768.6,1049.8) scale(1,1.07)" font-size="28.5" text-anchor="middle">1</text>
<text stroke="none" transform="translate(1790.95,1015.2) scale(1,1.07)" font-size="28.5" text-anchor="middle">1</text>
<text stroke="none" transform="translate(1790.95,1049.8) scale(1,1.07)" font-size="28.5" text-anchor="middle">1</text>
<text stroke="none" transform="translate(1831.9,1015.2) scale(1,1.07)" font-size="28.5" text-anchor="middle">0</text>
<text stroke="none" transform="translate(1831.9,1049.8) scale(1,1.07)" font-size="28.5" text-anchor="middle">0</text>
<text stroke="none" transform="translate(1854.25,1015.2) scale(1,1.07)" font-size="28.5" text-anchor="middle">1</text>
<text stroke="none" transform="translate(1854.25,1049.8) scale(1,1.07)" font-size="28.5" text-anchor="middle">0</text>
<text stroke="none" transform="translate(1876.6,1015.2) scale(1,1.07)" font-size="28.5" text-anchor="middle">0</text>
<text stroke="none" transform="translate(1876.6,1049.8) scale(1,1.07)" font-size="28.5" text-anchor="middle">1</text>
<text stroke="none" transform="translate(1898.95,1015.2) scale(1,1.07)" font-size="28.5" text-anchor="middle">1</text>
<text stroke="none" transform="translate(1898.95,1049.8) scale(1,1.07)" font-size="28.5" text-anchor="middle">1</text>
<text stroke="none" transform="translate(1939.9,1015.2) scale(1,1.07)" font-size="28.5" text-anchor="middle">0</text>
<text stroke="none" transform="translate(1939.9,1049.8) scale(1,1.07)" font-size="28.5" text-anchor="middle">0</text>
<text stroke="none" transform="translate(1962.25,1015.2) scale(1,1.07)" font-size="28.5" text-anchor="middle">1</text>
<text stroke="none" transform="translate(1962.25,1049.8) scale(1,1.07)" font-size="28.5" text-anchor="middle">0</text>
<text stroke="none" transform="translate(1984.6,1015.2) scale(1,1.07)" font-size="28.5" text-anchor="middle">0</text>
<text stroke="none" transform="translate(1984.6,1049.8) scale(1,1.07)" font-size="28.5" text-anchor="middle">1</text>
<text stroke="none" transform="translate(2006.95,1015.2) scale(1,1.07)" font-size="28.5" text-anchor="middle">1</text>
<text stroke="none" transform="translate(2006.95,1049.8) scale(1,1.07)" font-size="28.5" text-anchor="middle">1</text>
<text stroke="none" transform="translate(1215.1,1087.3) scale(1,1.07)" font-size="28" text-anchor="middle">1</text>
<text stroke="none" transform="translate(1323.7,1087.3) scale(1,1.07)" font-size="28" text-anchor="middle">2</text>
<text stroke="none" transform="translate(1432.5,1087.3) scale(1,1.07)" font-size="28" text-anchor="middle">3</text>
<text stroke="none" transform="translate(1541.3,1087.3) scale(1,1.07)" font-size="28" text-anchor="middle">4</text>
<text stroke="none" transform="translate(1650.3,1087.3) scale(1,1.07)" font-size="28" text-anchor="middle">5</text>
<text stroke="none" transform="translate(1758.8,1087.3) scale(1,1.07)" font-size="28" text-anchor="middle">6</text>
<text stroke="none" transform="translate(1867.3,1087.3) scale(1,1.07)" font-size="28" text-anchor="middle">7</text>
<text stroke="none" transform="translate(1976.3,1087.3) scale(1,1.07)" font-size="28" text-anchor="middle">8</text>
<line x1="1197.4" y1="1103.6" x2="1994.1" y2="1103.6" stroke-width="1.8"/>
<text stroke="none" transform="translate(1483.5,1140.7) scale(1,1.07)" font-size="28.5">BM3R1 NAND Gates</text>
<rect x="104.5" y="1234.3" width="432.6" height="366.9" fill="none" stroke-width="1.6"/>
<line x1="96.5" y1="1295.4" x2="104.5" y2="1295.4" stroke-width="1.6"/>
<line x1="96.5" y1="1417.75" x2="104.5" y2="1417.75" stroke-width="1.6"/>
<line x1="96.5" y1="1540.1" x2="104.5" y2="1540.1" stroke-width="1.6"/>
<line x1="100" y1="1258.57" x2="104.5" y2="1258.57" stroke-width="1.6"/>
<line x1="100" y1="1237.02" x2="104.5" y2="1237.02" stroke-width="1.6"/>
<line x1="100" y1="1380.92" x2="104.5" y2="1380.92" stroke-width="1.6"/>
<line x1="100" y1="1359.37" x2="104.5" y2="1359.37" stroke-width="1.6"/>
<line x1="100" y1="1344.09" x2="104.5" y2="1344.09" stroke-width="1.6"/>
<line x1="100" y1="1332.23" x2="104.5" y2="1332.23" stroke-width="1.6"/>
<line x1="100" y1="1322.54" x2="104.5" y2="1322.54" stroke-width="1.6"/>
<line x1="100" y1="1314.35" x2="104.5" y2="1314.35" stroke-width="1.6"/>
<line x1="100" y1="1307.26" x2="104.5" y2="1307.26" stroke-width="1.6"/>
<line x1="100" y1="1301" x2="104.5" y2="1301" stroke-width="1.6"/>
<line x1="100" y1="1503.27" x2="104.5" y2="1503.27" stroke-width="1.6"/>
<line x1="100" y1="1481.72" x2="104.5" y2="1481.72" stroke-width="1.6"/>
<line x1="100" y1="1466.44" x2="104.5" y2="1466.44" stroke-width="1.6"/>
<line x1="100" y1="1454.58" x2="104.5" y2="1454.58" stroke-width="1.6"/>
<line x1="100" y1="1444.89" x2="104.5" y2="1444.89" stroke-width="1.6"/>
<line x1="100" y1="1436.7" x2="104.5" y2="1436.7" stroke-width="1.6"/>
<line x1="100" y1="1429.61" x2="104.5" y2="1429.61" stroke-width="1.6"/>
<line x1="100" y1="1423.35" x2="104.5" y2="1423.35" stroke-width="1.6"/>
<line x1="100" y1="1588.79" x2="104.5" y2="1588.79" stroke-width="1.6"/>
<line x1="100" y1="1576.93" x2="104.5" y2="1576.93" stroke-width="1.6"/>
<line x1="100" y1="1567.24" x2="104.5" y2="1567.24" stroke-width="1.6"/>
<line x1="100" y1="1559.05" x2="104.5" y2="1559.05" stroke-width="1.6"/>
<line x1="100" y1="1551.96" x2="104.5" y2="1551.96" stroke-width="1.6"/>
<line x1="100" y1="1545.7" x2="104.5" y2="1545.7" stroke-width="1.6"/>
<text stroke="none" transform="translate(48.2,1309.9) scale(1,1.1)" font-size="27.7">10</text>
<text stroke="none" transform="translate(80.46,1296.1) scale(1,1.1)" font-size="19.5">0</text>
<text stroke="none" transform="translate(41.96,1432.25) scale(1,1.1)" font-size="27.7">10</text>
<text stroke="none" transform="translate(74.12,1418.45) scale(1,1.1)" font-size="19.5">-2</text>
<text stroke="none" transform="translate(41.57,1554.6) scale(1,1.1)" font-size="27.7">10</text>
<text stroke="none" transform="translate(73.73,1540.8) scale(1,1.1)" font-size="19.5">-4</text>
<text stroke="none" transform="translate(28.5,1415) rotate(-90) scale(1.02,1.04)" font-size="28.5" text-anchor="middle">Output (RPU)</text>
<text stroke="none" transform="translate(8.82,1218.6) scale(1.12,1.02)" font-size="48" font-weight="bold">f</text>
<rect x="120.05" y="1556.95" width="22.5" height="44.25" fill="#838383" stroke-width="1.9"/>
<line x1="131.3" y1="1555" x2="131.3" y2="1557" stroke-width="1.6"/>
<line x1="125.8" y1="1555" x2="136.8" y2="1555" stroke-width="1.6"/>
<line x1="125.8" y1="1557" x2="136.8" y2="1557" stroke-width="1.6"/>
<circle cx="128.8" cy="1555.5" r="2.7"/>
<circle cx="131.3" cy="1556" r="2.7"/>
<circle cx="133.8" cy="1556.5" r="2.7"/>
<rect x="150.15" y="1303.55" width="22.5" height="297.65" fill="#8f8ffd" stroke-width="1.9"/>
<line x1="161.4" y1="1301" x2="161.4" y2="1304" stroke-width="1.6"/>
<line x1="155.9" y1="1301" x2="166.9" y2="1301" stroke-width="1.6"/>
<line x1="155.9" y1="1304" x2="166.9" y2="1304" stroke-width="1.6"/>
<circle cx="158.9" cy="1302" r="2.7"/>
<circle cx="161.4" cy="1302.5" r="2.7"/>
<circle cx="163.9" cy="1303" r="2.7"/>
<rect x="180.25" y="1516.35" width="22.5" height="84.85" fill="#838383" stroke-width="1.9"/>
<line x1="191.5" y1="1512.1" x2="191.5" y2="1520.4" stroke-width="1.6"/>
<line x1="186" y1="1512.1" x2="197" y2="1512.1" stroke-width="1.6"/>
<line x1="186" y1="1520.4" x2="197" y2="1520.4" stroke-width="1.6"/>
<circle cx="189" cy="1513" r="2.7"/>
<circle cx="194" cy="1514" r="2.7"/>
<circle cx="191.5" cy="1518" r="2.7"/>
<rect x="210.35" y="1476.15" width="22.5" height="125.05" fill="#838383" stroke-width="1.9"/>
<line x1="221.6" y1="1474.5" x2="221.6" y2="1476" stroke-width="1.6"/>
<line x1="216.1" y1="1474.5" x2="227.1" y2="1474.5" stroke-width="1.6"/>
<line x1="216.1" y1="1476" x2="227.1" y2="1476" stroke-width="1.6"/>
<circle cx="219.1" cy="1475" r="2.7"/>
<circle cx="221.6" cy="1475" r="2.7"/>
<circle cx="224.1" cy="1475" r="2.7"/>
<rect x="264.7" y="1543.75" width="22.5" height="57.45" fill="#838383" stroke-width="1.9"/>
<line x1="275.95" y1="1535.2" x2="275.95" y2="1553.7" stroke-width="1.6"/>
<line x1="270.45" y1="1535.2" x2="281.45" y2="1535.2" stroke-width="1.6"/>
<line x1="270.45" y1="1553.7" x2="281.45" y2="1553.7" stroke-width="1.6"/>
<circle cx="275.95" cy="1537.2" r="2.7"/>
<circle cx="275.95" cy="1556" r="2.7"/>
<rect x="294.8" y="1306.25" width="22.5" height="294.95" fill="#8f8ffd" stroke-width="1.9"/>
<line x1="306.05" y1="1303.5" x2="306.05" y2="1306" stroke-width="1.6"/>
<line x1="300.55" y1="1303.5" x2="311.55" y2="1303.5" stroke-width="1.6"/>
<line x1="300.55" y1="1306" x2="311.55" y2="1306" stroke-width="1.6"/>
<circle cx="303.55" cy="1304" r="2.7"/>
<circle cx="306.05" cy="1304.5" r="2.7"/>
<circle cx="308.55" cy="1305" r="2.7"/>
<rect x="324.9" y="1527.95" width="22.5" height="73.25" fill="#838383" stroke-width="1.9"/>
<line x1="336.15" y1="1526" x2="336.15" y2="1528" stroke-width="1.6"/>
<line x1="330.65" y1="1526" x2="341.65" y2="1526" stroke-width="1.6"/>
<line x1="330.65" y1="1528" x2="341.65" y2="1528" stroke-width="1.6"/>
<circle cx="333.65" cy="1526.5" r="2.7"/>
<circle cx="336.15" cy="1527" r="2.7"/>
<circle cx="338.65" cy="1527" r="2.7"/>
<rect x="355" y="1505.15" width="22.5" height="96.05" fill="#838383" stroke-width="1.9"/>
<line x1="366.25" y1="1503" x2="366.25" y2="1505" stroke-width="1.6"/>
<line x1="360.75" y1="1503" x2="371.75" y2="1503" stroke-width="1.6"/>
<line x1="360.75" y1="1505" x2="371.75" y2="1505" stroke-width="1.6"/>
<circle cx="363.75" cy="1503.5" r="2.7"/>
<circle cx="366.25" cy="1503.5" r="2.7"/>
<circle cx="368.75" cy="1504" r="2.7"/>
<rect x="409.35" y="1538.75" width="22.5" height="62.45" fill="#838383" stroke-width="1.9"/>
<line x1="420.6" y1="1537" x2="420.6" y2="1538.5" stroke-width="1.6"/>
<line x1="415.1" y1="1537" x2="426.1" y2="1537" stroke-width="1.6"/>
<line x1="415.1" y1="1538.5" x2="426.1" y2="1538.5" stroke-width="1.6"/>
<circle cx="418.1" cy="1537.5" r="2.7"/>
<circle cx="420.6" cy="1537.5" r="2.7"/>
<circle cx="423.1" cy="1537.5" r="2.7"/>
<rect x="439.45" y="1310.45" width="22.5" height="290.75" fill="#8f8ffd" stroke-width="1.9"/>
<line x1="450.7" y1="1306.2" x2="450.7" y2="1312.8" stroke-width="1.6"/>
<line x1="445.2" y1="1306.2" x2="456.2" y2="1306.2" stroke-width="1.6"/>
<line x1="445.2" y1="1312.8" x2="456.2" y2="1312.8" stroke-width="1.6"/>
<circle cx="448.2" cy="1307" r="2.7"/>
<circle cx="450.7" cy="1309" r="2.7"/>
<circle cx="453.2" cy="1312" r="2.7"/>
<rect x="469.55" y="1534.45" width="22.5" height="66.75" fill="#838383" stroke-width="1.9"/>
<line x1="480.8" y1="1519" x2="480.8" y2="1561.9" stroke-width="1.6"/>
<line x1="475.3" y1="1519" x2="486.3" y2="1519" stroke-width="1.6"/>
<line x1="475.3" y1="1561.9" x2="486.3" y2="1561.9" stroke-width="1.6"/>
<circle cx="480.8" cy="1519" r="2.7"/>
<circle cx="480.8" cy="1537.8" r="2.7"/>
<circle cx="480.8" cy="1556" r="2.7"/>
<rect x="499.65" y="1512.35" width="22.5" height="88.85" fill="#838383" stroke-width="1.9"/>
<line x1="510.9" y1="1508.1" x2="510.9" y2="1514.7" stroke-width="1.6"/>
<line x1="505.4" y1="1508.1" x2="516.4" y2="1508.1" stroke-width="1.6"/>
<line x1="505.4" y1="1514.7" x2="516.4" y2="1514.7" stroke-width="1.6"/>
<circle cx="508.4" cy="1509" r="2.7"/>
<circle cx="510.9" cy="1511" r="2.7"/>
<circle cx="513.4" cy="1513" r="2.7"/>
<line x1="104.5" y1="1234.3" x2="104.5" y2="1601.2" stroke-width="1.6"/>
<line x1="104.5" y1="1601.2" x2="537.1" y2="1601.2" stroke-width="1.6"/>
<line x1="131.3" y1="1601.2" x2="131.3" y2="1610.2" stroke-width="1.6"/>
<line x1="161.4" y1="1601.2" x2="161.4" y2="1610.2" stroke-width="1.6"/>
<line x1="191.5" y1="1601.2" x2="191.5" y2="1610.2" stroke-width="1.6"/>
<line x1="221.6" y1="1601.2" x2="221.6" y2="1610.2" stroke-width="1.6"/>
<line x1="275.95" y1="1601.2" x2="275.95" y2="1610.2" stroke-width="1.6"/>
<line x1="306.05" y1="1601.2" x2="306.05" y2="1610.2" stroke-width="1.6"/>
<line x1="336.15" y1="1601.2" x2="336.15" y2="1610.2" stroke-width="1.6"/>
<line x1="366.25" y1="1601.2" x2="366.25" y2="1610.2" stroke-width="1.6"/>
<line x1="420.6" y1="1601.2" x2="420.6" y2="1610.2" stroke-width="1.6"/>
<line x1="450.7" y1="1601.2" x2="450.7" y2="1610.2" stroke-width="1.6"/>
<line x1="480.8" y1="1601.2" x2="480.8" y2="1610.2" stroke-width="1.6"/>
<line x1="510.9" y1="1601.2" x2="510.9" y2="1610.2" stroke-width="1.6"/>
<polyline points="128.7,1292.7 128.7,1275.6 219.9,1275.6 219.9,1292.7" fill="none" stroke-width="1.6"/>
<text stroke="none" transform="translate(167.4,1268) scale(1,1.07)" font-size="28.5" text-anchor="middle">652</text>
<polyline points="273.35,1292.7 273.35,1275.6 364.55,1275.6 364.55,1292.7" fill="none" stroke-width="1.6"/>
<text stroke="none" transform="translate(315.4,1268) scale(1,1.07)" font-size="28.5" text-anchor="middle">1736</text>
<polyline points="418,1292.7 418,1275.6 509.2,1275.6 509.2,1292.7" fill="none" stroke-width="1.6"/>
<text stroke="none" transform="translate(465.7,1268) scale(1,1.07)" font-size="28.5" text-anchor="middle">1986</text>
<text stroke="none" transform="translate(47.2,1639.4) scale(1,1.07)" font-size="28">Ara</text>
<text stroke="none" transform="translate(47.2,1674.7) scale(1,1.07)" font-size="28">Rha</text>
<text stroke="none" transform="translate(131.3,1639.4) scale(1,1.07)" font-size="28.5" text-anchor="middle">0</text>
<text stroke="none" transform="translate(131.3,1674.7) scale(1,1.07)" font-size="28.5" text-anchor="middle">0</text>
<text stroke="none" transform="translate(161.4,1639.4) scale(1,1.07)" font-size="28.5" text-anchor="middle">1</text>
<text stroke="none" transform="translate(161.4,1674.7) scale(1,1.07)" font-size="28.5" text-anchor="middle">0</text>
<text stroke="none" transform="translate(191.5,1639.4) scale(1,1.07)" font-size="28.5" text-anchor="middle">0</text>
<text stroke="none" transform="translate(191.5,1674.7) scale(1,1.07)" font-size="28.5" text-anchor="middle">1</text>
<text stroke="none" transform="translate(221.6,1639.4) scale(1,1.07)" font-size="28.5" text-anchor="middle">1</text>
<text stroke="none" transform="translate(221.6,1674.7) scale(1,1.07)" font-size="28.5" text-anchor="middle">1</text>
<text stroke="none" transform="translate(275.95,1639.4) scale(1,1.07)" font-size="28.5" text-anchor="middle">0</text>
<text stroke="none" transform="translate(275.95,1674.7) scale(1,1.07)" font-size="28.5" text-anchor="middle">0</text>
<text stroke="none" transform="translate(306.05,1639.4) scale(1,1.07)" font-size="28.5" text-anchor="middle">1</text>
<text stroke="none" transform="translate(306.05,1674.7) scale(1,1.07)" font-size="28.5" text-anchor="middle">0</text>
<text stroke="none" transform="translate(336.15,1639.4) scale(1,1.07)" font-size="28.5" text-anchor="middle">0</text>
<text stroke="none" transform="translate(336.15,1674.7) scale(1,1.07)" font-size="28.5" text-anchor="middle">1</text>
<text stroke="none" transform="translate(366.25,1639.4) scale(1,1.07)" font-size="28.5" text-anchor="middle">1</text>
<text stroke="none" transform="translate(366.25,1674.7) scale(1,1.07)" font-size="28.5" text-anchor="middle">1</text>
<text stroke="none" transform="translate(420.6,1639.4) scale(1,1.07)" font-size="28.5" text-anchor="middle">0</text>
<text stroke="none" transform="translate(420.6,1674.7) scale(1,1.07)" font-size="28.5" text-anchor="middle">0</text>
<text stroke="none" transform="translate(450.7,1639.4) scale(1,1.07)" font-size="28.5" text-anchor="middle">1</text>
<text stroke="none" transform="translate(450.7,1674.7) scale(1,1.07)" font-size="28.5" text-anchor="middle">0</text>
<text stroke="none" transform="translate(480.8,1639.4) scale(1,1.07)" font-size="28.5" text-anchor="middle">0</text>
<text stroke="none" transform="translate(480.8,1674.7) scale(1,1.07)" font-size="28.5" text-anchor="middle">1</text>
<text stroke="none" transform="translate(510.9,1639.4) scale(1,1.07)" font-size="28.5" text-anchor="middle">1</text>
<text stroke="none" transform="translate(510.9,1674.7) scale(1,1.07)" font-size="28.5" text-anchor="middle">1</text>
<text stroke="none" transform="translate(11,1711) scale(1,1.07)" font-size="28.7">NIMPLY Gate 1</text>
<text stroke="none" transform="translate(325,1711) scale(1,1.07)" font-size="28" text-anchor="middle">2</text>
<text stroke="none" transform="translate(465.2,1711) scale(1,1.07)" font-size="28" text-anchor="middle">3</text>
<rect x="730.2" y="1231" width="487.6" height="361.3" fill="none" stroke-width="1.6"/>
<line x1="713.2" y1="1300.3" x2="730.2" y2="1300.3" stroke-width="1.6"/>
<line x1="713.2" y1="1446.3" x2="730.2" y2="1446.3" stroke-width="1.6"/>
<line x1="713.2" y1="1592.3" x2="730.2" y2="1592.3" stroke-width="1.6"/>
<line x1="720.2" y1="1256.35" x2="730.2" y2="1256.35" stroke-width="1.6"/>
<line x1="720.2" y1="1230.64" x2="730.2" y2="1230.64" stroke-width="1.6"/>
<line x1="720.2" y1="1402.35" x2="730.2" y2="1402.35" stroke-width="1.6"/>
<line x1="720.2" y1="1376.64" x2="730.2" y2="1376.64" stroke-width="1.6"/>
<line x1="720.2" y1="1358.4" x2="730.2" y2="1358.4" stroke-width="1.6"/>
<line x1="720.2" y1="1344.25" x2="730.2" y2="1344.25" stroke-width="1.6"/>
<line x1="720.2" y1="1332.69" x2="730.2" y2="1332.69" stroke-width="1.6"/>
<line x1="720.2" y1="1322.92" x2="730.2" y2="1322.92" stroke-width="1.6"/>
<line x1="720.2" y1="1314.45" x2="730.2" y2="1314.45" stroke-width="1.6"/>
<line x1="720.2" y1="1306.98" x2="730.2" y2="1306.98" stroke-width="1.6"/>
<line x1="720.2" y1="1548.35" x2="730.2" y2="1548.35" stroke-width="1.6"/>
<line x1="720.2" y1="1522.64" x2="730.2" y2="1522.64" stroke-width="1.6"/>
<line x1="720.2" y1="1504.4" x2="730.2" y2="1504.4" stroke-width="1.6"/>
<line x1="720.2" y1="1490.25" x2="730.2" y2="1490.25" stroke-width="1.6"/>
<line x1="720.2" y1="1478.69" x2="730.2" y2="1478.69" stroke-width="1.6"/>
<line x1="720.2" y1="1468.92" x2="730.2" y2="1468.92" stroke-width="1.6"/>
<line x1="720.2" y1="1460.45" x2="730.2" y2="1460.45" stroke-width="1.6"/>
<line x1="720.2" y1="1452.98" x2="730.2" y2="1452.98" stroke-width="1.6"/>
<text stroke="none" transform="translate(668.7,1304.5) scale(1,1.05)" font-size="28">10</text>
<text stroke="none" transform="translate(701.7,1290.6) scale(1,1.05)" font-size="19">0</text>
<text stroke="none" transform="translate(668.7,1450.5) scale(1,1.05)" font-size="28">10</text>
<text stroke="none" transform="translate(701.6,1436.6) scale(1,1.05)" font-size="19">-1</text>
<text stroke="none" transform="translate(668.7,1595.4) scale(1,1.05)" font-size="28">10</text>
<text stroke="none" transform="translate(701.6,1582.6) scale(1,1.05)" font-size="19">-2</text>
<text stroke="none" transform="translate(654.7,1414.1) rotate(-90) scale(1.03,1.04)" font-size="28.5" text-anchor="middle">Output (RPU)</text>
<text stroke="none" transform="translate(628.28,1219.2) scale(1.05,1.06)" font-size="48" font-weight="bold">g</text>
<rect x="736.05" y="1329.25" width="47.7" height="263.05" fill="#8f8ffd" stroke-width="1.9"/>
<line x1="759.9" y1="1322.7" x2="759.9" y2="1332.3" stroke-width="1.6"/>
<line x1="748.9" y1="1322.7" x2="770.9" y2="1322.7" stroke-width="1.6"/>
<line x1="748.9" y1="1332.3" x2="770.9" y2="1332.3" stroke-width="1.6"/>
<circle cx="755.9" cy="1322" r="2.8"/>
<circle cx="762.9" cy="1324" r="2.8"/>
<circle cx="757.9" cy="1327" r="2.8"/>
<circle cx="763.9" cy="1330" r="2.8"/>
<circle cx="759.9" cy="1332.5" r="2.8"/>
<rect x="797.08" y="1264.35" width="47.7" height="327.95" fill="#8f8ffd" stroke-width="1.9"/>
<line x1="820.93" y1="1255.8" x2="820.93" y2="1272.3" stroke-width="1.6"/>
<line x1="809.93" y1="1255.8" x2="831.93" y2="1255.8" stroke-width="1.6"/>
<line x1="809.93" y1="1272.3" x2="831.93" y2="1272.3" stroke-width="1.6"/>
<circle cx="816.93" cy="1256.4" r="2.8"/>
<circle cx="823.93" cy="1259" r="2.8"/>
<circle cx="818.93" cy="1264" r="2.8"/>
<circle cx="824.93" cy="1267.3" r="2.8"/>
<circle cx="820.93" cy="1280.5" r="2.8"/>
<rect x="858.11" y="1325.35" width="47.7" height="266.95" fill="#8f8ffd" stroke-width="1.9"/>
<line x1="881.96" y1="1319.4" x2="881.96" y2="1329.3" stroke-width="1.6"/>
<line x1="870.96" y1="1319.4" x2="892.96" y2="1319.4" stroke-width="1.6"/>
<line x1="870.96" y1="1329.3" x2="892.96" y2="1329.3" stroke-width="1.6"/>
<circle cx="877.96" cy="1316.8" r="2.8"/>
<circle cx="884.96" cy="1321" r="2.8"/>
<circle cx="879.96" cy="1324" r="2.8"/>
<circle cx="885.96" cy="1327" r="2.8"/>
<circle cx="881.96" cy="1331" r="2.8"/>
<rect x="919.14" y="1260.05" width="47.7" height="332.25" fill="#8f8ffd" stroke-width="1.9"/>
<line x1="942.99" y1="1254.8" x2="942.99" y2="1264.7" stroke-width="1.6"/>
<line x1="931.99" y1="1254.8" x2="953.99" y2="1254.8" stroke-width="1.6"/>
<line x1="931.99" y1="1264.7" x2="953.99" y2="1264.7" stroke-width="1.6"/>
<circle cx="938.99" cy="1254.8" r="2.8"/>
<circle cx="945.99" cy="1256" r="2.8"/>
<circle cx="940.99" cy="1258" r="2.8"/>
<circle cx="946.99" cy="1262" r="2.8"/>
<circle cx="942.99" cy="1268.3" r="2.8"/>
<rect x="980.17" y="1397.25" width="47.7" height="195.05" fill="#8f8ffd" stroke-width="1.9"/>
<line x1="1004.02" y1="1389.4" x2="1004.02" y2="1404.2" stroke-width="1.6"/>
<line x1="993.02" y1="1389.4" x2="1015.02" y2="1389.4" stroke-width="1.6"/>
<line x1="993.02" y1="1404.2" x2="1015.02" y2="1404.2" stroke-width="1.6"/>
<circle cx="1000.02" cy="1386.1" r="2.8"/>
<circle cx="1007.02" cy="1392" r="2.8"/>
<circle cx="1002.02" cy="1396" r="2.8"/>
<circle cx="1008.02" cy="1400" r="2.8"/>
<circle cx="1004.02" cy="1404.2" r="2.8"/>
<rect x="1041.2" y="1306.25" width="47.7" height="286.05" fill="#8f8ffd" stroke-width="1.9"/>
<line x1="1065.05" y1="1301.3" x2="1065.05" y2="1309.5" stroke-width="1.6"/>
<line x1="1054.05" y1="1301.3" x2="1076.05" y2="1301.3" stroke-width="1.6"/>
<line x1="1054.05" y1="1309.5" x2="1076.05" y2="1309.5" stroke-width="1.6"/>
<circle cx="1061.05" cy="1301" r="2.8"/>
<circle cx="1068.05" cy="1303" r="2.8"/>
<circle cx="1063.05" cy="1305" r="2.8"/>
<circle cx="1069.05" cy="1307" r="2.8"/>
<circle cx="1065.05" cy="1312.8" r="2.8"/>
<rect x="1102.23" y="1401.85" width="47.7" height="190.45" fill="#8f8ffd" stroke-width="1.9"/>
<line x1="1126.08" y1="1389.4" x2="1126.08" y2="1413.1" stroke-width="1.6"/>
<line x1="1115.08" y1="1389.4" x2="1137.08" y2="1389.4" stroke-width="1.6"/>
<line x1="1115.08" y1="1413.1" x2="1137.08" y2="1413.1" stroke-width="1.6"/>
<circle cx="1122.08" cy="1387.7" r="2.8"/>
<circle cx="1129.08" cy="1396" r="2.8"/>
<circle cx="1124.08" cy="1402" r="2.8"/>
<circle cx="1130.08" cy="1407.5" r="2.8"/>
<circle cx="1126.08" cy="1422.4" r="2.8"/>
<rect x="1163.26" y="1526.25" width="47.7" height="66.05" fill="#838383" stroke-width="1.9"/>
<line x1="1187.11" y1="1513.8" x2="1187.11" y2="1539.5" stroke-width="1.6"/>
<line x1="1176.11" y1="1513.8" x2="1198.11" y2="1513.8" stroke-width="1.6"/>
<line x1="1176.11" y1="1539.5" x2="1198.11" y2="1539.5" stroke-width="1.6"/>
<circle cx="1183.11" cy="1513.1" r="2.8"/>
<circle cx="1190.11" cy="1523" r="2.8"/>
<circle cx="1185.11" cy="1528" r="2.8"/>
<circle cx="1191.11" cy="1532.9" r="2.8"/>
<circle cx="1187.11" cy="1549.4" r="2.8"/>
<line x1="730.2" y1="1231" x2="730.2" y2="1592.3" stroke-width="1.6"/>
<line x1="730.2" y1="1592.3" x2="1217.8" y2="1592.3" stroke-width="1.6"/>
<line x1="759.9" y1="1592.3" x2="759.9" y2="1602.3" stroke-width="1.6"/>
<line x1="820.93" y1="1592.3" x2="820.93" y2="1602.3" stroke-width="1.6"/>
<line x1="881.96" y1="1592.3" x2="881.96" y2="1602.3" stroke-width="1.6"/>
<line x1="942.99" y1="1592.3" x2="942.99" y2="1602.3" stroke-width="1.6"/>
<line x1="1004.02" y1="1592.3" x2="1004.02" y2="1602.3" stroke-width="1.6"/>
<line x1="1065.05" y1="1592.3" x2="1065.05" y2="1602.3" stroke-width="1.6"/>
<line x1="1126.08" y1="1592.3" x2="1126.08" y2="1602.3" stroke-width="1.6"/>
<line x1="1187.11" y1="1592.3" x2="1187.11" y2="1602.3" stroke-width="1.6"/>
<text stroke="none" transform="translate(1123,1273.9) scale(1,1.07)" font-size="29.5">7-fold</text>
<text stroke="none" transform="translate(658.3,1637.8) scale(1,1.07)" font-size="28">Ara</text>
<text stroke="none" transform="translate(658.3,1669.8) scale(1,1.07)" font-size="28">aTc</text>
<text stroke="none" transform="translate(658.3,1705.1) scale(1,1.07)" font-size="28">Rha</text>
<text stroke="none" transform="translate(759.9,1637.8) scale(1,1.07)" font-size="28.5" text-anchor="middle">0</text>
<text stroke="none" transform="translate(759.9,1669.8) scale(1,1.07)" font-size="28.5" text-anchor="middle">0</text>
<text stroke="none" transform="translate(759.9,1705.1) scale(1,1.07)" font-size="28.5" text-anchor="middle">0</text>
<text stroke="none" transform="translate(820.93,1637.8) scale(1,1.07)" font-size="28.5" text-anchor="middle">0</text>
<text stroke="none" transform="translate(820.93,1669.8) scale(1,1.07)" font-size="28.5" text-anchor="middle">0</text>
<text stroke="none" transform="translate(820.93,1705.1) scale(1,1.07)" font-size="28.5" text-anchor="middle">1</text>
<text stroke="none" transform="translate(881.96,1637.8) scale(1,1.07)" font-size="28.5" text-anchor="middle">0</text>
<text stroke="none" transform="translate(881.96,1669.8) scale(1,1.07)" font-size="28.5" text-anchor="middle">1</text>
<text stroke="none" transform="translate(881.96,1705.1) scale(1,1.07)" font-size="28.5" text-anchor="middle">0</text>
<text stroke="none" transform="translate(942.99,1637.8) scale(1,1.07)" font-size="28.5" text-anchor="middle">0</text>
<text stroke="none" transform="translate(942.99,1669.8) scale(1,1.07)" font-size="28.5" text-anchor="middle">1</text>
<text stroke="none" transform="translate(942.99,1705.1) scale(1,1.07)" font-size="28.5" text-anchor="middle">1</text>
<text stroke="none" transform="translate(1004.02,1637.8) scale(1,1.07)" font-size="28.5" text-anchor="middle">1</text>
<text stroke="none" transform="translate(1004.02,1669.8) scale(1,1.07)" font-size="28.5" text-anchor="middle">0</text>
<text stroke="none" transform="translate(1004.02,1705.1) scale(1,1.07)" font-size="28.5" text-anchor="middle">0</text>
<text stroke="none" transform="translate(1065.05,1637.8) scale(1,1.07)" font-size="28.5" text-anchor="middle">1</text>
<text stroke="none" transform="translate(1065.05,1669.8) scale(1,1.07)" font-size="28.5" text-anchor="middle">0</text>
<text stroke="none" transform="translate(1065.05,1705.1) scale(1,1.07)" font-size="28.5" text-anchor="middle">1</text>
<text stroke="none" transform="translate(1126.08,1637.8) scale(1,1.07)" font-size="28.5" text-anchor="middle">1</text>
<text stroke="none" transform="translate(1126.08,1669.8) scale(1,1.07)" font-size="28.5" text-anchor="middle">1</text>
<text stroke="none" transform="translate(1126.08,1705.1) scale(1,1.07)" font-size="28.5" text-anchor="middle">0</text>
<text stroke="none" transform="translate(1187.11,1637.8) scale(1,1.07)" font-size="28.5" text-anchor="middle">1</text>
<text stroke="none" transform="translate(1187.11,1669.8) scale(1,1.07)" font-size="28.5" text-anchor="middle">1</text>
<text stroke="none" transform="translate(1187.11,1705.1) scale(1,1.07)" font-size="28.5" text-anchor="middle">1</text>
<rect x="1440.8" y="1217" width="583.5" height="389.3" fill="none" stroke-width="1.6"/>
<line x1="1431.8" y1="1606.3" x2="1440.8" y2="1606.3" stroke-width="1.6"/>
<text stroke="none" transform="translate(1426.5,1615.8) scale(1,1.07)" font-size="27" text-anchor="end">0.00</text>
<line x1="1431.8" y1="1476.53" x2="1440.8" y2="1476.53" stroke-width="1.6"/>
<text stroke="none" transform="translate(1426.5,1486.03) scale(1,1.07)" font-size="27" text-anchor="end">0.01</text>
<line x1="1431.8" y1="1346.77" x2="1440.8" y2="1346.77" stroke-width="1.6"/>
<text stroke="none" transform="translate(1426.5,1356.27) scale(1,1.07)" font-size="27" text-anchor="end">0.02</text>
<line x1="1431.8" y1="1217" x2="1440.8" y2="1217" stroke-width="1.6"/>
<text stroke="none" transform="translate(1426.5,1226.5) scale(1,1.07)" font-size="27" text-anchor="end">0.03</text>
<text stroke="none" transform="translate(1358.8,1415) rotate(-90) scale(1.04,1.04)" font-size="28.5" text-anchor="middle">Output (RPU)</text>
<text stroke="none" transform="translate(1308.47,1218.7) scale(1.02,1)" font-size="48" font-weight="bold">h</text>
<rect x="1447.7" y="1599.73" width="23.2" height="6.57" fill="#838383" stroke-width="1.8"/>
<circle cx="1454.3" cy="1598.83" r="2.6"/>
<circle cx="1459.3" cy="1598.83" r="2.6"/>
<circle cx="1464.3" cy="1598.83" r="2.6"/>
<rect x="1484.11" y="1601.23" width="23.2" height="5.07" fill="#838383" stroke-width="1.8"/>
<circle cx="1490.71" cy="1600.33" r="2.6"/>
<circle cx="1495.71" cy="1600.33" r="2.6"/>
<circle cx="1500.71" cy="1600.33" r="2.6"/>
<rect x="1520.52" y="1599.97" width="23.2" height="6.33" fill="#838383" stroke-width="1.8"/>
<circle cx="1527.12" cy="1599.07" r="2.6"/>
<circle cx="1532.12" cy="1599.07" r="2.6"/>
<circle cx="1537.12" cy="1599.07" r="2.6"/>
<rect x="1556.93" y="1602.76" width="23.2" height="3.54" fill="#838383" stroke-width="1.8"/>
<circle cx="1563.53" cy="1601.86" r="2.6"/>
<circle cx="1568.53" cy="1601.86" r="2.6"/>
<circle cx="1573.53" cy="1601.86" r="2.6"/>
<rect x="1593.34" y="1597.77" width="23.2" height="8.53" fill="#838383" stroke-width="1.8"/>
<circle cx="1599.94" cy="1596.87" r="2.6"/>
<circle cx="1604.94" cy="1596.87" r="2.6"/>
<circle cx="1609.94" cy="1596.87" r="2.6"/>
<rect x="1629.75" y="1597.77" width="23.2" height="8.53" fill="#838383" stroke-width="1.8"/>
<circle cx="1636.35" cy="1596.87" r="2.6"/>
<circle cx="1641.35" cy="1596.87" r="2.6"/>
<circle cx="1646.35" cy="1596.87" r="2.6"/>
<rect x="1666.16" y="1599.58" width="23.2" height="6.72" fill="#838383" stroke-width="1.8"/>
<circle cx="1672.76" cy="1598.68" r="2.6"/>
<circle cx="1677.76" cy="1598.68" r="2.6"/>
<circle cx="1682.76" cy="1598.68" r="2.6"/>
<rect x="1702.57" y="1600.35" width="23.2" height="5.95" fill="#838383" stroke-width="1.8"/>
<circle cx="1709.17" cy="1599.45" r="2.6"/>
<circle cx="1714.17" cy="1599.45" r="2.6"/>
<circle cx="1719.17" cy="1599.45" r="2.6"/>
<rect x="1738.98" y="1598.55" width="23.2" height="7.75" fill="#838383" stroke-width="1.8"/>
<circle cx="1745.58" cy="1597.65" r="2.6"/>
<circle cx="1750.58" cy="1597.65" r="2.6"/>
<circle cx="1755.58" cy="1597.65" r="2.6"/>
<rect x="1775.39" y="1599.15" width="23.2" height="7.15" fill="#838383" stroke-width="1.8"/>
<circle cx="1781.99" cy="1598.25" r="2.6"/>
<circle cx="1786.99" cy="1598.25" r="2.6"/>
<circle cx="1791.99" cy="1598.25" r="2.6"/>
<rect x="1811.8" y="1598.07" width="23.2" height="8.23" fill="#838383" stroke-width="1.8"/>
<circle cx="1818.4" cy="1597.17" r="2.6"/>
<circle cx="1823.4" cy="1597.17" r="2.6"/>
<circle cx="1828.4" cy="1597.17" r="2.6"/>
<rect x="1848.21" y="1599.34" width="23.2" height="6.96" fill="#838383" stroke-width="1.8"/>
<circle cx="1854.81" cy="1598.44" r="2.6"/>
<circle cx="1859.81" cy="1598.44" r="2.6"/>
<circle cx="1864.81" cy="1598.44" r="2.6"/>
<rect x="1884.62" y="1594.48" width="23.2" height="11.82" fill="#838383" stroke-width="1.8"/>
<circle cx="1891.22" cy="1593.58" r="2.6"/>
<circle cx="1896.22" cy="1593.58" r="2.6"/>
<circle cx="1901.22" cy="1593.58" r="2.6"/>
<rect x="1921.03" y="1595.16" width="23.2" height="11.14" fill="#838383" stroke-width="1.8"/>
<circle cx="1927.63" cy="1594.26" r="2.6"/>
<circle cx="1932.63" cy="1594.26" r="2.6"/>
<circle cx="1937.63" cy="1594.26" r="2.6"/>
<rect x="1957.44" y="1592.47" width="23.2" height="13.83" fill="#838383" stroke-width="1.8"/>
<circle cx="1964.04" cy="1591.57" r="2.6"/>
<circle cx="1969.04" cy="1591.57" r="2.6"/>
<circle cx="1974.04" cy="1591.57" r="2.6"/>
<rect x="1993.9" y="1376.95" width="23.1" height="229.35" fill="#8f8ffd" stroke-width="1.9"/>
<line x1="2005.45" y1="1363" x2="2005.45" y2="1388.2" stroke-width="1.6"/>
<line x1="1998.95" y1="1363" x2="2011.95" y2="1363" stroke-width="1.6"/>
<line x1="1998.95" y1="1388.2" x2="2011.95" y2="1388.2" stroke-width="1.6"/>
<circle cx="2005.45" cy="1367.8" r="2.8"/>
<circle cx="2005.45" cy="1390" r="2.8"/>
<line x1="1440.8" y1="1217" x2="1440.8" y2="1606.3" stroke-width="1.6"/>
<line x1="1440.8" y1="1606.3" x2="2024.3" y2="1606.3" stroke-width="1.6"/>
<line x1="1459.3" y1="1606.3" x2="1459.3" y2="1615.3" stroke-width="1.6"/>
<line x1="1495.71" y1="1606.3" x2="1495.71" y2="1615.3" stroke-width="1.6"/>
<line x1="1532.12" y1="1606.3" x2="1532.12" y2="1615.3" stroke-width="1.6"/>
<line x1="1568.53" y1="1606.3" x2="1568.53" y2="1615.3" stroke-width="1.6"/>
<line x1="1604.94" y1="1606.3" x2="1604.94" y2="1615.3" stroke-width="1.6"/>
<line x1="1641.35" y1="1606.3" x2="1641.35" y2="1615.3" stroke-width="1.6"/>
<line x1="1677.76" y1="1606.3" x2="1677.76" y2="1615.3" stroke-width="1.6"/>
<line x1="1714.17" y1="1606.3" x2="1714.17" y2="1615.3" stroke-width="1.6"/>
<line x1="1750.58" y1="1606.3" x2="1750.58" y2="1615.3" stroke-width="1.6"/>
<line x1="1786.99" y1="1606.3" x2="1786.99" y2="1615.3" stroke-width="1.6"/>
<line x1="1823.4" y1="1606.3" x2="1823.4" y2="1615.3" stroke-width="1.6"/>
<line x1="1859.81" y1="1606.3" x2="1859.81" y2="1615.3" stroke-width="1.6"/>
<line x1="1896.22" y1="1606.3" x2="1896.22" y2="1615.3" stroke-width="1.6"/>
<line x1="1932.63" y1="1606.3" x2="1932.63" y2="1615.3" stroke-width="1.6"/>
<line x1="1969.04" y1="1606.3" x2="1969.04" y2="1615.3" stroke-width="1.6"/>
<line x1="2005.45" y1="1606.3" x2="2005.45" y2="1615.3" stroke-width="1.6"/>
<text stroke="none" transform="translate(1921,1261.7) scale(1,1.07)" font-size="29.5">13-fold</text>
<text stroke="none" transform="translate(1390.9,1650.7) scale(1,1.07)" font-size="28">AHL</text>
<text stroke="none" transform="translate(1459.3,1650.7) scale(1,1.07)" font-size="28.5" text-anchor="middle">0</text>
<text stroke="none" transform="translate(1495.71,1650.7) scale(1,1.07)" font-size="28.5" text-anchor="middle">0</text>
<text stroke="none" transform="translate(1532.12,1650.7) scale(1,1.07)" font-size="28.5" text-anchor="middle">0</text>
<text stroke="none" transform="translate(1568.53,1650.7) scale(1,1.07)" font-size="28.5" text-anchor="middle">0</text>
<text stroke="none" transform="translate(1604.94,1650.7) scale(1,1.07)" font-size="28.5" text-anchor="middle">0</text>
<text stroke="none" transform="translate(1641.35,1650.7) scale(1,1.07)" font-size="28.5" text-anchor="middle">0</text>
<text stroke="none" transform="translate(1677.76,1650.7) scale(1,1.07)" font-size="28.5" text-anchor="middle">0</text>
<text stroke="none" transform="translate(1714.17,1650.7) scale(1,1.07)" font-size="28.5" text-anchor="middle">0</text>
<text stroke="none" transform="translate(1750.58,1650.7) scale(1,1.07)" font-size="28.5" text-anchor="middle">1</text>
<text stroke="none" transform="translate(1786.99,1650.7) scale(1,1.07)" font-size="28.5" text-anchor="middle">1</text>
<text stroke="none" transform="translate(1823.4,1650.7) scale(1,1.07)" font-size="28.5" text-anchor="middle">1</text>
<text stroke="none" transform="translate(1859.81,1650.7) scale(1,1.07)" font-size="28.5" text-anchor="middle">1</text>
<text stroke="none" transform="translate(1896.22,1650.7) scale(1,1.07)" font-size="28.5" text-anchor="middle">1</text>
<text stroke="none" transform="translate(1932.63,1650.7) scale(1,1.07)" font-size="28.5" text-anchor="middle">1</text>
<text stroke="none" transform="translate(1969.04,1650.7) scale(1,1.07)" font-size="28.5" text-anchor="middle">1</text>
<text stroke="none" transform="translate(2005.45,1650.7) scale(1,1.07)" font-size="28.5" text-anchor="middle">1</text>
<text stroke="none" transform="translate(1390.9,1684) scale(1,1.07)" font-size="28">Rha</text>
<text stroke="none" transform="translate(1459.3,1684) scale(1,1.07)" font-size="28.5" text-anchor="middle">0</text>
<text stroke="none" transform="translate(1495.71,1684) scale(1,1.07)" font-size="28.5" text-anchor="middle">0</text>
<text stroke="none" transform="translate(1532.12,1684) scale(1,1.07)" font-size="28.5" text-anchor="middle">0</text>
<text stroke="none" transform="translate(1568.53,1684) scale(1,1.07)" font-size="28.5" text-anchor="middle">0</text>
<text stroke="none" transform="translate(1604.94,1684) scale(1,1.07)" font-size="28.5" text-anchor="middle">1</text>
<text stroke="none" transform="translate(1641.35,1684) scale(1,1.07)" font-size="28.5" text-anchor="middle">1</text>
<text stroke="none" transform="translate(1677.76,1684) scale(1,1.07)" font-size="28.5" text-anchor="middle">1</text>
<text stroke="none" transform="translate(1714.17,1684) scale(1,1.07)" font-size="28.5" text-anchor="middle">1</text>
<text stroke="none" transform="translate(1750.58,1684) scale(1,1.07)" font-size="28.5" text-anchor="middle">0</text>
<text stroke="none" transform="translate(1786.99,1684) scale(1,1.07)" font-size="28.5" text-anchor="middle">0</text>
<text stroke="none" transform="translate(1823.4,1684) scale(1,1.07)" font-size="28.5" text-anchor="middle">0</text>
<text stroke="none" transform="translate(1859.81,1684) scale(1,1.07)" font-size="28.5" text-anchor="middle">0</text>
<text stroke="none" transform="translate(1896.22,1684) scale(1,1.07)" font-size="28.5" text-anchor="middle">1</text>
<text stroke="none" transform="translate(1932.63,1684) scale(1,1.07)" font-size="28.5" text-anchor="middle">1</text>
<text stroke="none" transform="translate(1969.04,1684) scale(1,1.07)" font-size="28.5" text-anchor="middle">1</text>
<text stroke="none" transform="translate(2005.45,1684) scale(1,1.07)" font-size="28.5" text-anchor="middle">1</text>
<text stroke="none" transform="translate(1390.9,1715.4) scale(1,1.07)" font-size="28">aTc</text>
<text stroke="none" transform="translate(1459.3,1715.4) scale(1,1.07)" font-size="28.5" text-anchor="middle">0</text>
<text stroke="none" transform="translate(1495.71,1715.4) scale(1,1.07)" font-size="28.5" text-anchor="middle">0</text>
<text stroke="none" transform="translate(1532.12,1715.4) scale(1,1.07)" font-size="28.5" text-anchor="middle">1</text>
<text stroke="none" transform="translate(1568.53,1715.4) scale(1,1.07)" font-size="28.5" text-anchor="middle">1</text>
<text stroke="none" transform="translate(1604.94,1715.4) scale(1,1.07)" font-size="28.5" text-anchor="middle">0</text>
<text stroke="none" transform="translate(1641.35,1715.4) scale(1,1.07)" font-size="28.5" text-anchor="middle">0</text>
<text stroke="none" transform="translate(1677.76,1715.4) scale(1,1.07)" font-size="28.5" text-anchor="middle">1</text>
<text stroke="none" transform="translate(1714.17,1715.4) scale(1,1.07)" font-size="28.5" text-anchor="middle">1</text>
<text stroke="none" transform="translate(1750.58,1715.4) scale(1,1.07)" font-size="28.5" text-anchor="middle">0</text>
<text stroke="none" transform="translate(1786.99,1715.4) scale(1,1.07)" font-size="28.5" text-anchor="middle">0</text>
<text stroke="none" transform="translate(1823.4,1715.4) scale(1,1.07)" font-size="28.5" text-anchor="middle">1</text>
<text stroke="none" transform="translate(1859.81,1715.4) scale(1,1.07)" font-size="28.5" text-anchor="middle">1</text>
<text stroke="none" transform="translate(1896.22,1715.4) scale(1,1.07)" font-size="28.5" text-anchor="middle">0</text>
<text stroke="none" transform="translate(1932.63,1715.4) scale(1,1.07)" font-size="28.5" text-anchor="middle">0</text>
<text stroke="none" transform="translate(1969.04,1715.4) scale(1,1.07)" font-size="28.5" text-anchor="middle">1</text>
<text stroke="none" transform="translate(2005.45,1715.4) scale(1,1.07)" font-size="28.5" text-anchor="middle">1</text>
<text stroke="none" transform="translate(1390.9,1744.3) scale(1,1.07)" font-size="28">Ara</text>
<text stroke="none" transform="translate(1459.3,1744.3) scale(1,1.07)" font-size="28.5" text-anchor="middle">0</text>
<text stroke="none" transform="translate(1495.71,1744.3) scale(1,1.07)" font-size="28.5" text-anchor="middle">1</text>
<text stroke="none" transform="translate(1532.12,1744.3) scale(1,1.07)" font-size="28.5" text-anchor="middle">0</text>
<text stroke="none" transform="translate(1568.53,1744.3) scale(1,1.07)" font-size="28.5" text-anchor="middle">1</text>
<text stroke="none" transform="translate(1604.94,1744.3) scale(1,1.07)" font-size="28.5" text-anchor="middle">0</text>
<text stroke="none" transform="translate(1641.35,1744.3) scale(1,1.07)" font-size="28.5" text-anchor="middle">1</text>
<text stroke="none" transform="translate(1677.76,1744.3) scale(1,1.07)" font-size="28.5" text-anchor="middle">0</text>
<text stroke="none" transform="translate(1714.17,1744.3) scale(1,1.07)" font-size="28.5" text-anchor="middle">1</text>
<text stroke="none" transform="translate(1750.58,1744.3) scale(1,1.07)" font-size="28.5" text-anchor="middle">0</text>
<text stroke="none" transform="translate(1786.99,1744.3) scale(1,1.07)" font-size="28.5" text-anchor="middle">1</text>
<text stroke="none" transform="translate(1823.4,1744.3) scale(1,1.07)" font-size="28.5" text-anchor="middle">0</text>
<text stroke="none" transform="translate(1859.81,1744.3) scale(1,1.07)" font-size="28.5" text-anchor="middle">1</text>
<text stroke="none" transform="translate(1896.22,1744.3) scale(1,1.07)" font-size="28.5" text-anchor="middle">0</text>
<text stroke="none" transform="translate(1932.63,1744.3) scale(1,1.07)" font-size="28.5" text-anchor="middle">1</text>
<text stroke="none" transform="translate(1969.04,1744.3) scale(1,1.07)" font-size="28.5" text-anchor="middle">0</text>
<text stroke="none" transform="translate(2005.45,1744.3) scale(1,1.07)" font-size="28.5" text-anchor="middle">1</text>
<rect x="1546.2" y="1248.4" width="305.1" height="202.6" fill="#fff" stroke="none"/>
<rect x="1546.2" y="1248.4" width="305.1" height="202.6" fill="none" stroke-width="1.6"/>
<line x1="1540.7" y1="1248.5" x2="1546.2" y2="1248.5" stroke-width="1.6"/>
<line x1="1540.7" y1="1328.5" x2="1546.2" y2="1328.5" stroke-width="1.6"/>
<line x1="1540.7" y1="1408.5" x2="1546.2" y2="1408.5" stroke-width="1.6"/>
<line x1="1543" y1="1304.42" x2="1546.2" y2="1304.42" stroke-width="1.6"/>
<line x1="1543" y1="1290.33" x2="1546.2" y2="1290.33" stroke-width="1.6"/>
<line x1="1543" y1="1280.34" x2="1546.2" y2="1280.34" stroke-width="1.6"/>
<line x1="1543" y1="1272.58" x2="1546.2" y2="1272.58" stroke-width="1.6"/>
<line x1="1543" y1="1266.25" x2="1546.2" y2="1266.25" stroke-width="1.6"/>
<line x1="1543" y1="1260.89" x2="1546.2" y2="1260.89" stroke-width="1.6"/>
<line x1="1543" y1="1256.25" x2="1546.2" y2="1256.25" stroke-width="1.6"/>
<line x1="1543" y1="1252.16" x2="1546.2" y2="1252.16" stroke-width="1.6"/>
<line x1="1543" y1="1384.42" x2="1546.2" y2="1384.42" stroke-width="1.6"/>
<line x1="1543" y1="1370.33" x2="1546.2" y2="1370.33" stroke-width="1.6"/>
<line x1="1543" y1="1360.34" x2="1546.2" y2="1360.34" stroke-width="1.6"/>
<line x1="1543" y1="1352.58" x2="1546.2" y2="1352.58" stroke-width="1.6"/>
<line x1="1543" y1="1346.25" x2="1546.2" y2="1346.25" stroke-width="1.6"/>
<line x1="1543" y1="1340.89" x2="1546.2" y2="1340.89" stroke-width="1.6"/>
<line x1="1543" y1="1336.25" x2="1546.2" y2="1336.25" stroke-width="1.6"/>
<line x1="1543" y1="1332.16" x2="1546.2" y2="1332.16" stroke-width="1.6"/>
<line x1="1543" y1="1450.33" x2="1546.2" y2="1450.33" stroke-width="1.6"/>
<line x1="1543" y1="1440.34" x2="1546.2" y2="1440.34" stroke-width="1.6"/>
<line x1="1543" y1="1432.58" x2="1546.2" y2="1432.58" stroke-width="1.6"/>
<line x1="1543" y1="1426.25" x2="1546.2" y2="1426.25" stroke-width="1.6"/>
<line x1="1543" y1="1420.89" x2="1546.2" y2="1420.89" stroke-width="1.6"/>
<line x1="1543" y1="1416.25" x2="1546.2" y2="1416.25" stroke-width="1.6"/>
<line x1="1543" y1="1412.16" x2="1546.2" y2="1412.16" stroke-width="1.6"/>
<text stroke="none" transform="translate(1492.37,1257.5) scale(1,1.05)" font-size="27.5">10</text>
<text stroke="none" transform="translate(1522.12,1243.1) scale(1,1.05)" font-size="19.5">-1</text>
<text stroke="none" transform="translate(1492.37,1337.5) scale(1,1.05)" font-size="27.5">10</text>
<text stroke="none" transform="translate(1522.12,1323.1) scale(1,1.05)" font-size="19.5">-2</text>
<text stroke="none" transform="translate(1492.28,1417.5) scale(1,1.05)" font-size="27.5">10</text>
<text stroke="none" transform="translate(1522.02,1403.1) scale(1,1.05)" font-size="19.5">-3</text>
<rect x="1550.4" y="1428.6" width="12.4" height="22.4" fill="#838383" stroke-width="1.8"/>
<line x1="1556.6" y1="1425" x2="1556.6" y2="1431" stroke-width="1.4"/>
<line x1="1553.1" y1="1425" x2="1560.1" y2="1425" stroke-width="1.4"/>
<line x1="1553.1" y1="1431" x2="1560.1" y2="1431" stroke-width="1.4"/>
<circle cx="1556.6" cy="1424.5" r="2.4"/>
<circle cx="1554" cy="1428.7" r="2.4"/>
<circle cx="1559.2" cy="1431" r="2.4"/>
<rect x="1569.35" y="1436.4" width="12.4" height="14.6" fill="#838383" stroke-width="1.8"/>
<line x1="1575.55" y1="1433" x2="1575.55" y2="1437" stroke-width="1.4"/>
<line x1="1572.05" y1="1433" x2="1579.05" y2="1433" stroke-width="1.4"/>
<line x1="1572.05" y1="1437" x2="1579.05" y2="1437" stroke-width="1.4"/>
<circle cx="1575.55" cy="1432.5" r="2.4"/>
<circle cx="1572.95" cy="1436.5" r="2.4"/>
<circle cx="1578.15" cy="1437" r="2.4"/>
<rect x="1588.3" y="1429.7" width="12.4" height="21.3" fill="#838383" stroke-width="1.8"/>
<line x1="1594.5" y1="1424" x2="1594.5" y2="1431" stroke-width="1.4"/>
<line x1="1591" y1="1424" x2="1598" y2="1424" stroke-width="1.4"/>
<line x1="1591" y1="1431" x2="1598" y2="1431" stroke-width="1.4"/>
<circle cx="1594.5" cy="1423.5" r="2.4"/>
<circle cx="1591.9" cy="1429.8" r="2.4"/>
<circle cx="1597.1" cy="1431" r="2.4"/>
<rect x="1607.25" y="1446.7" width="12.4" height="4.3" fill="#838383" stroke-width="1.8"/>
<line x1="1613.45" y1="1441" x2="1613.45" y2="1449" stroke-width="1.4"/>
<line x1="1609.95" y1="1441" x2="1616.95" y2="1441" stroke-width="1.4"/>
<line x1="1609.95" y1="1449" x2="1616.95" y2="1449" stroke-width="1.4"/>
<circle cx="1613.45" cy="1440.5" r="2.4"/>
<circle cx="1610.85" cy="1446.8" r="2.4"/>
<circle cx="1616.05" cy="1449" r="2.4"/>
<rect x="1626.2" y="1420.5" width="12.4" height="30.5" fill="#838383" stroke-width="1.8"/>
<line x1="1632.4" y1="1414" x2="1632.4" y2="1424" stroke-width="1.4"/>
<line x1="1628.9" y1="1414" x2="1635.9" y2="1414" stroke-width="1.4"/>
<line x1="1628.9" y1="1424" x2="1635.9" y2="1424" stroke-width="1.4"/>
<circle cx="1632.4" cy="1413.5" r="2.4"/>
<circle cx="1629.8" cy="1420.6" r="2.4"/>
<circle cx="1635" cy="1424" r="2.4"/>
<rect x="1645.15" y="1420.5" width="12.4" height="30.5" fill="#838383" stroke-width="1.8"/>
<line x1="1651.35" y1="1417" x2="1651.35" y2="1422" stroke-width="1.4"/>
<line x1="1647.85" y1="1417" x2="1654.85" y2="1417" stroke-width="1.4"/>
<line x1="1647.85" y1="1422" x2="1654.85" y2="1422" stroke-width="1.4"/>
<circle cx="1651.35" cy="1416.5" r="2.4"/>
<circle cx="1648.75" cy="1420.6" r="2.4"/>
<circle cx="1653.95" cy="1422" r="2.4"/>
<rect x="1664.1" y="1427.9" width="12.4" height="23.1" fill="#838383" stroke-width="1.8"/>
<line x1="1670.3" y1="1422" x2="1670.3" y2="1432" stroke-width="1.4"/>
<line x1="1666.8" y1="1422" x2="1673.8" y2="1422" stroke-width="1.4"/>
<line x1="1666.8" y1="1432" x2="1673.8" y2="1432" stroke-width="1.4"/>
<circle cx="1670.3" cy="1421.5" r="2.4"/>
<circle cx="1670.3" cy="1428" r="2.4"/>
<circle cx="1670.3" cy="1432" r="2.4"/>
<rect x="1683.05" y="1431.6" width="12.4" height="19.4" fill="#838383" stroke-width="1.8"/>
<line x1="1689.25" y1="1425" x2="1689.25" y2="1435" stroke-width="1.4"/>
<line x1="1685.75" y1="1425" x2="1692.75" y2="1425" stroke-width="1.4"/>
<line x1="1685.75" y1="1435" x2="1692.75" y2="1435" stroke-width="1.4"/>
<circle cx="1689.25" cy="1424.5" r="2.4"/>
<circle cx="1686.65" cy="1431.7" r="2.4"/>
<circle cx="1691.85" cy="1435" r="2.4"/>
<rect x="1702" y="1423.5" width="12.4" height="27.5" fill="#838383" stroke-width="1.8"/>
<line x1="1708.2" y1="1414" x2="1708.2" y2="1432" stroke-width="1.4"/>
<line x1="1704.7" y1="1414" x2="1711.7" y2="1414" stroke-width="1.4"/>
<line x1="1704.7" y1="1432" x2="1711.7" y2="1432" stroke-width="1.4"/>
<circle cx="1708.2" cy="1413.5" r="2.4"/>
<circle cx="1708.2" cy="1423.6" r="2.4"/>
<circle cx="1708.2" cy="1432" r="2.4"/>
<rect x="1720.95" y="1426" width="12.4" height="25" fill="#838383" stroke-width="1.8"/>
<line x1="1727.15" y1="1423" x2="1727.15" y2="1427" stroke-width="1.4"/>
<line x1="1723.65" y1="1423" x2="1730.65" y2="1423" stroke-width="1.4"/>
<line x1="1723.65" y1="1427" x2="1730.65" y2="1427" stroke-width="1.4"/>
<circle cx="1724.55" cy="1422.5" r="2.4"/>
<circle cx="1727.15" cy="1426.1" r="2.4"/>
<circle cx="1729.75" cy="1427" r="2.4"/>
<rect x="1739.9" y="1421.6" width="12.4" height="29.4" fill="#838383" stroke-width="1.8"/>
<line x1="1746.1" y1="1419" x2="1746.1" y2="1422" stroke-width="1.4"/>
<line x1="1742.6" y1="1419" x2="1749.6" y2="1419" stroke-width="1.4"/>
<line x1="1742.6" y1="1422" x2="1749.6" y2="1422" stroke-width="1.4"/>
<circle cx="1743.5" cy="1418.5" r="2.4"/>
<circle cx="1746.1" cy="1421.7" r="2.4"/>
<circle cx="1748.7" cy="1422" r="2.4"/>
<rect x="1758.85" y="1426.8" width="12.4" height="24.2" fill="#838383" stroke-width="1.8"/>
<line x1="1765.05" y1="1421" x2="1765.05" y2="1430" stroke-width="1.4"/>
<line x1="1761.55" y1="1421" x2="1768.55" y2="1421" stroke-width="1.4"/>
<line x1="1761.55" y1="1430" x2="1768.55" y2="1430" stroke-width="1.4"/>
<circle cx="1765.05" cy="1420.5" r="2.4"/>
<circle cx="1762.45" cy="1426.9" r="2.4"/>
<circle cx="1767.65" cy="1430" r="2.4"/>
<rect x="1777.8" y="1410.1" width="12.4" height="40.9" fill="#838383" stroke-width="1.8"/>
<line x1="1784" y1="1408" x2="1784" y2="1410" stroke-width="1.4"/>
<line x1="1780.5" y1="1408" x2="1787.5" y2="1408" stroke-width="1.4"/>
<line x1="1780.5" y1="1410" x2="1787.5" y2="1410" stroke-width="1.4"/>
<circle cx="1781.4" cy="1407.5" r="2.4"/>
<circle cx="1784" cy="1410" r="2.4"/>
<circle cx="1786.6" cy="1410.2" r="2.4"/>
<rect x="1796.75" y="1412" width="12.4" height="39" fill="#838383" stroke-width="1.8"/>
<line x1="1802.95" y1="1409.5" x2="1802.95" y2="1412.5" stroke-width="1.4"/>
<line x1="1799.45" y1="1409.5" x2="1806.45" y2="1409.5" stroke-width="1.4"/>
<line x1="1799.45" y1="1412.5" x2="1806.45" y2="1412.5" stroke-width="1.4"/>
<circle cx="1800.35" cy="1409" r="2.4"/>
<circle cx="1802.95" cy="1412.1" r="2.4"/>
<circle cx="1805.55" cy="1412.5" r="2.4"/>
<rect x="1815.7" y="1405" width="12.4" height="46" fill="#838383" stroke-width="1.8"/>
<line x1="1821.9" y1="1401" x2="1821.9" y2="1406" stroke-width="1.4"/>
<line x1="1818.4" y1="1401" x2="1825.4" y2="1401" stroke-width="1.4"/>
<line x1="1818.4" y1="1406" x2="1825.4" y2="1406" stroke-width="1.4"/>
<circle cx="1821.9" cy="1400.5" r="2.4"/>
<circle cx="1819.3" cy="1405.1" r="2.4"/>
<circle cx="1824.5" cy="1406" r="2.4"/>
<rect x="1834.65" y="1309.6" width="12.4" height="141.4" fill="#8f8ffd" stroke-width="1.8"/>
<line x1="1840.85" y1="1307.5" x2="1840.85" y2="1310" stroke-width="1.4"/>
<line x1="1837.35" y1="1307.5" x2="1844.35" y2="1307.5" stroke-width="1.4"/>
<line x1="1837.35" y1="1310" x2="1844.35" y2="1310" stroke-width="1.4"/>
<circle cx="1838.25" cy="1307" r="2.4"/>
<circle cx="1840.85" cy="1309.7" r="2.4"/>
<circle cx="1843.45" cy="1310" r="2.4"/>
<line x1="1546.2" y1="1451" x2="1851.3" y2="1451" stroke-width="1.6"/>
<line x1="1556.6" y1="1451" x2="1556.6" y2="1459" stroke-width="1.6"/>
<line x1="1575.55" y1="1451" x2="1575.55" y2="1459" stroke-width="1.6"/>
<line x1="1594.5" y1="1451" x2="1594.5" y2="1459" stroke-width="1.6"/>
<line x1="1613.45" y1="1451" x2="1613.45" y2="1459" stroke-width="1.6"/>
<line x1="1632.4" y1="1451" x2="1632.4" y2="1459" stroke-width="1.6"/>
<line x1="1651.35" y1="1451" x2="1651.35" y2="1459" stroke-width="1.6"/>
<line x1="1670.3" y1="1451" x2="1670.3" y2="1459" stroke-width="1.6"/>
<line x1="1689.25" y1="1451" x2="1689.25" y2="1459" stroke-width="1.6"/>
<line x1="1708.2" y1="1451" x2="1708.2" y2="1459" stroke-width="1.6"/>
<line x1="1727.15" y1="1451" x2="1727.15" y2="1459" stroke-width="1.6"/>
<line x1="1746.1" y1="1451" x2="1746.1" y2="1459" stroke-width="1.6"/>
<line x1="1765.05" y1="1451" x2="1765.05" y2="1459" stroke-width="1.6"/>
<line x1="1784" y1="1451" x2="1784" y2="1459" stroke-width="1.6"/>
<line x1="1802.95" y1="1451" x2="1802.95" y2="1459" stroke-width="1.6"/>
<line x1="1821.9" y1="1451" x2="1821.9" y2="1459" stroke-width="1.6"/>
<line x1="1840.85" y1="1451" x2="1840.85" y2="1459" stroke-width="1.6"/>
<text stroke="none" transform="translate(1559.1,1487.3) scale(1,1.07)" font-size="25" text-anchor="middle">0</text>
<text stroke="none" transform="translate(1578.05,1487.3) scale(1,1.07)" font-size="25" text-anchor="middle">0</text>
<text stroke="none" transform="translate(1597,1487.3) scale(1,1.07)" font-size="25" text-anchor="middle">0</text>
<text stroke="none" transform="translate(1615.95,1487.3) scale(1,1.07)" font-size="25" text-anchor="middle">0</text>
<text stroke="none" transform="translate(1634.9,1487.3) scale(1,1.07)" font-size="25" text-anchor="middle">0</text>
<text stroke="none" transform="translate(1653.85,1487.3) scale(1,1.07)" font-size="25" text-anchor="middle">0</text>
<text stroke="none" transform="translate(1672.8,1487.3) scale(1,1.07)" font-size="25" text-anchor="middle">0</text>
<text stroke="none" transform="translate(1691.75,1487.3) scale(1,1.07)" font-size="25" text-anchor="middle">0</text>
<text stroke="none" transform="translate(1710.7,1487.3) scale(1,1.07)" font-size="25" text-anchor="middle">1</text>
<text stroke="none" transform="translate(1729.65,1487.3) scale(1,1.07)" font-size="25" text-anchor="middle">1</text>
<text stroke="none" transform="translate(1748.6,1487.3) scale(1,1.07)" font-size="25" text-anchor="middle">1</text>
<text stroke="none" transform="translate(1767.55,1487.3) scale(1,1.07)" font-size="25" text-anchor="middle">1</text>
<text stroke="none" transform="translate(1786.5,1487.3) scale(1,1.07)" font-size="25" text-anchor="middle">1</text>
<text stroke="none" transform="translate(1805.45,1487.3) scale(1,1.07)" font-size="25" text-anchor="middle">1</text>
<text stroke="none" transform="translate(1824.4,1487.3) scale(1,1.07)" font-size="25" text-anchor="middle">1</text>
<text stroke="none" transform="translate(1843.35,1487.3) scale(1,1.07)" font-size="25" text-anchor="middle">1</text>
<text stroke="none" transform="translate(1559.1,1512) scale(1,1.07)" font-size="25" text-anchor="middle">0</text>
<text stroke="none" transform="translate(1578.05,1512) scale(1,1.07)" font-size="25" text-anchor="middle">0</text>
<text stroke="none" transform="translate(1597,1512) scale(1,1.07)" font-size="25" text-anchor="middle">0</text>
<text stroke="none" transform="translate(1615.95,1512) scale(1,1.07)" font-size="25" text-anchor="middle">0</text>
<text stroke="none" transform="translate(1634.9,1512) scale(1,1.07)" font-size="25" text-anchor="middle">1</text>
<text stroke="none" transform="translate(1653.85,1512) scale(1,1.07)" font-size="25" text-anchor="middle">1</text>
<text stroke="none" transform="translate(1672.8,1512) scale(1,1.07)" font-size="25" text-anchor="middle">1</text>
<text stroke="none" transform="translate(1691.75,1512) scale(1,1.07)" font-size="25" text-anchor="middle">1</text>
<text stroke="none" transform="translate(1710.7,1512) scale(1,1.07)" font-size="25" text-anchor="middle">0</text>
<text stroke="none" transform="translate(1729.65,1512) scale(1,1.07)" font-size="25" text-anchor="middle">0</text>
<text stroke="none" transform="translate(1748.6,1512) scale(1,1.07)" font-size="25" text-anchor="middle">0</text>
<text stroke="none" transform="translate(1767.55,1512) scale(1,1.07)" font-size="25" text-anchor="middle">0</text>
<text stroke="none" transform="translate(1786.5,1512) scale(1,1.07)" font-size="25" text-anchor="middle">1</text>
<text stroke="none" transform="translate(1805.45,1512) scale(1,1.07)" font-size="25" text-anchor="middle">1</text>
<text stroke="none" transform="translate(1824.4,1512) scale(1,1.07)" font-size="25" text-anchor="middle">1</text>
<text stroke="none" transform="translate(1843.35,1512) scale(1,1.07)" font-size="25" text-anchor="middle">1</text>
<text stroke="none" transform="translate(1559.1,1536.8) scale(1,1.07)" font-size="25" text-anchor="middle">0</text>
<text stroke="none" transform="translate(1578.05,1536.8) scale(1,1.07)" font-size="25" text-anchor="middle">0</text>
<text stroke="none" transform="translate(1597,1536.8) scale(1,1.07)" font-size="25" text-anchor="middle">1</text>
<text stroke="none" transform="translate(1615.95,1536.8) scale(1,1.07)" font-size="25" text-anchor="middle">1</text>
<text stroke="none" transform="translate(1634.9,1536.8) scale(1,1.07)" font-size="25" text-anchor="middle">0</text>
<text stroke="none" transform="translate(1653.85,1536.8) scale(1,1.07)" font-size="25" text-anchor="middle">0</text>
<text stroke="none" transform="translate(1672.8,1536.8) scale(1,1.07)" font-size="25" text-anchor="middle">1</text>
<text stroke="none" transform="translate(1691.75,1536.8) scale(1,1.07)" font-size="25" text-anchor="middle">1</text>
<text stroke="none" transform="translate(1710.7,1536.8) scale(1,1.07)" font-size="25" text-anchor="middle">0</text>
<text stroke="none" transform="translate(1729.65,1536.8) scale(1,1.07)" font-size="25" text-anchor="middle">0</text>
<text stroke="none" transform="translate(1748.6,1536.8) scale(1,1.07)" font-size="25" text-anchor="middle">1</text>
<text stroke="none" transform="translate(1767.55,1536.8) scale(1,1.07)" font-size="25" text-anchor="middle">1</text>
<text stroke="none" transform="translate(1786.5,1536.8) scale(1,1.07)" font-size="25" text-anchor="middle">0</text>
<text stroke="none" transform="translate(1805.45,1536.8) scale(1,1.07)" font-size="25" text-anchor="middle">0</text>
<text stroke="none" transform="translate(1824.4,1536.8) scale(1,1.07)" font-size="25" text-anchor="middle">1</text>
<text stroke="none" transform="translate(1843.35,1536.8) scale(1,1.07)" font-size="25" text-anchor="middle">1</text>
<text stroke="none" transform="translate(1559.1,1561.2) scale(1,1.07)" font-size="25" text-anchor="middle">0</text>
<text stroke="none" transform="translate(1578.05,1561.2) scale(1,1.07)" font-size="25" text-anchor="middle">1</text>
<text stroke="none" transform="translate(1597,1561.2) scale(1,1.07)" font-size="25" text-anchor="middle">0</text>
<text stroke="none" transform="translate(1615.95,1561.2) scale(1,1.07)" font-size="25" text-anchor="middle">1</text>
<text stroke="none" transform="translate(1634.9,1561.2) scale(1,1.07)" font-size="25" text-anchor="middle">0</text>
<text stroke="none" transform="translate(1653.85,1561.2) scale(1,1.07)" font-size="25" text-anchor="middle">1</text>
<text stroke="none" transform="translate(1672.8,1561.2) scale(1,1.07)" font-size="25" text-anchor="middle">0</text>
<text stroke="none" transform="translate(1691.75,1561.2) scale(1,1.07)" font-size="25" text-anchor="middle">1</text>
<text stroke="none" transform="translate(1710.7,1561.2) scale(1,1.07)" font-size="25" text-anchor="middle">0</text>
<text stroke="none" transform="translate(1729.65,1561.2) scale(1,1.07)" font-size="25" text-anchor="middle">1</text>
<text stroke="none" transform="translate(1748.6,1561.2) scale(1,1.07)" font-size="25" text-anchor="middle">0</text>
<text stroke="none" transform="translate(1767.55,1561.2) scale(1,1.07)" font-size="25" text-anchor="middle">1</text>
<text stroke="none" transform="translate(1786.5,1561.2) scale(1,1.07)" font-size="25" text-anchor="middle">0</text>
<text stroke="none" transform="translate(1805.45,1561.2) scale(1,1.07)" font-size="25" text-anchor="middle">1</text>
<text stroke="none" transform="translate(1824.4,1561.2) scale(1,1.07)" font-size="25" text-anchor="middle">0</text>
<text stroke="none" transform="translate(1843.35,1561.2) scale(1,1.07)" font-size="25" text-anchor="middle">1</text>
</g>
</svg>
</body></html>
